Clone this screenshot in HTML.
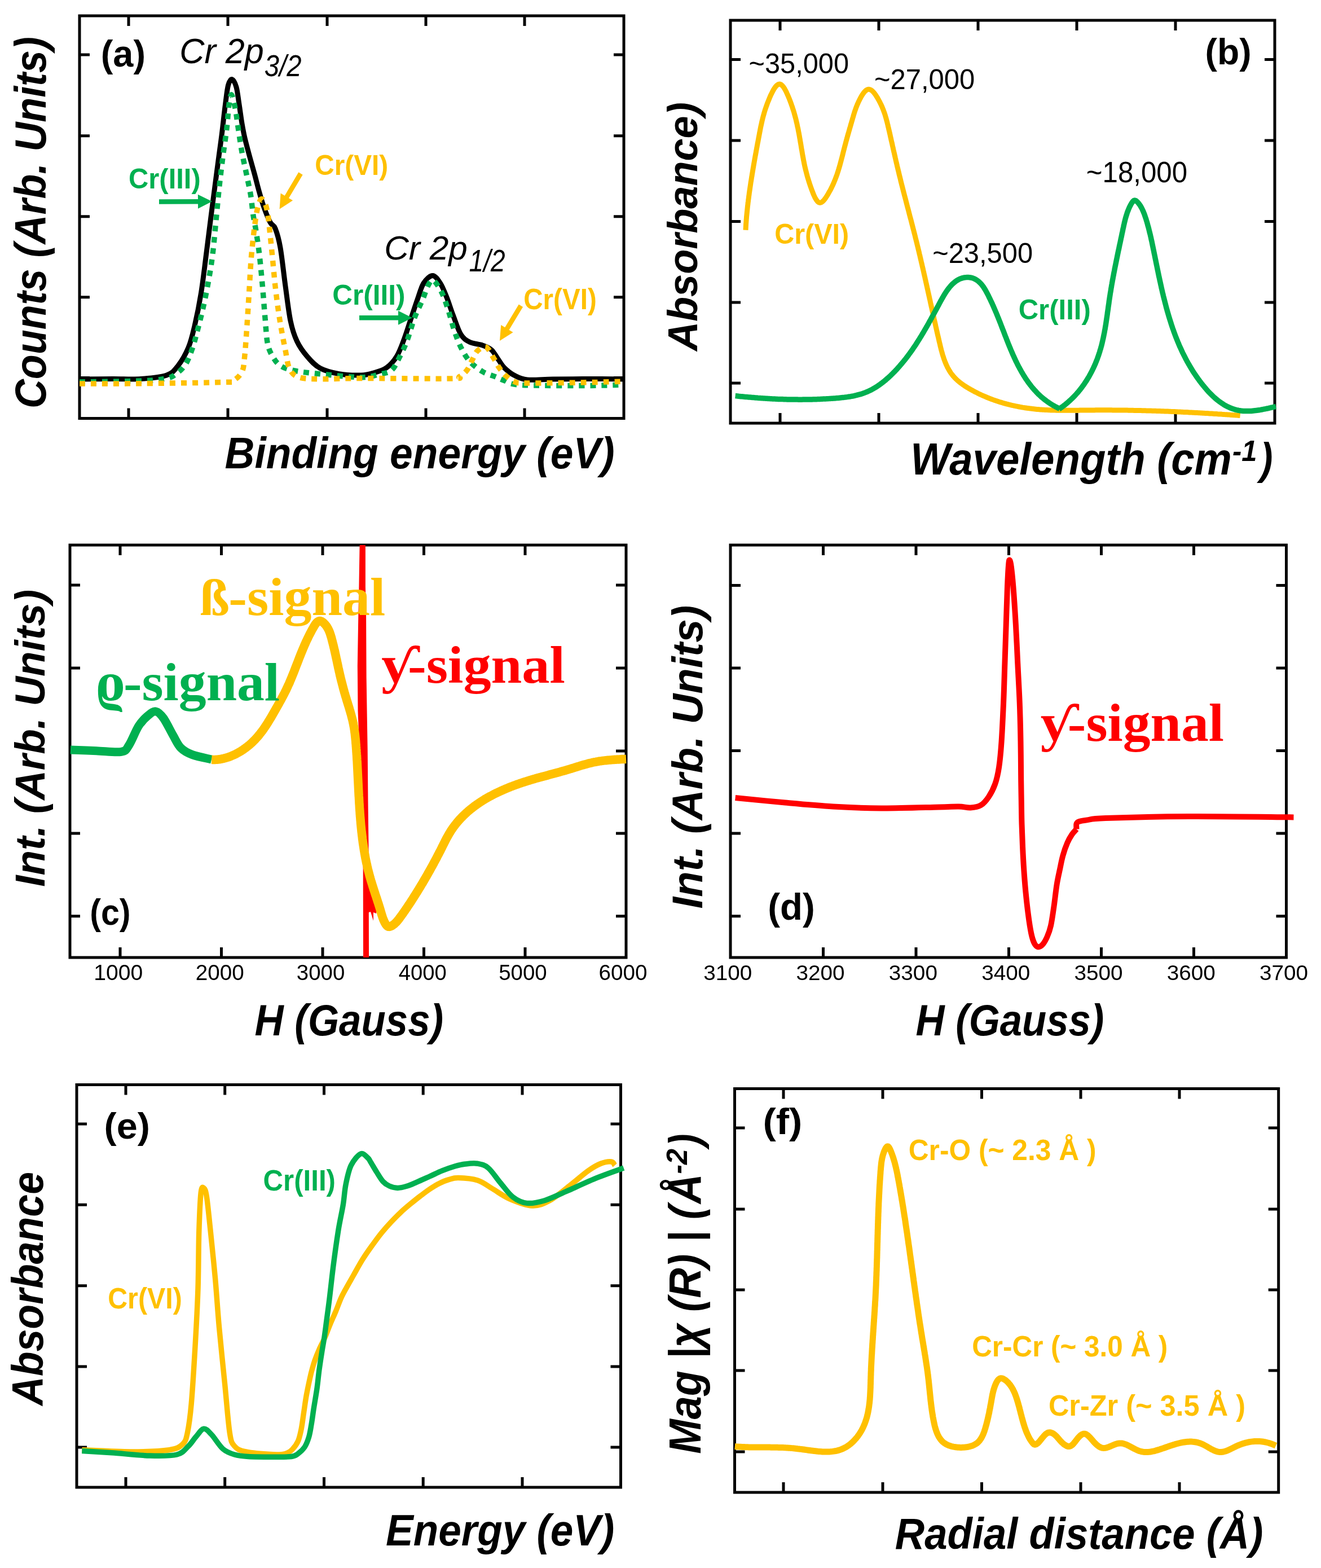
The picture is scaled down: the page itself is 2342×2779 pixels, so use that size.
<!DOCTYPE html>
<html><head><meta charset="utf-8"><title>Figure</title><style>html,body{margin:0;padding:0;background:#fff;overflow:hidden}svg{display:block}</style></head><body>
<svg xmlns="http://www.w3.org/2000/svg" width="2342" height="2779" viewBox="0 0 2342 2779">
<rect width="2342" height="2779" fill="#fff"/>
<rect x="141.0" y="28.0" width="965.0" height="713.5" fill="none" stroke="#000" stroke-width="5"/>
<path d="M228.0,28.0V46.0 M228.0,741.5V723.5 M404.0,28.0V46.0 M404.0,741.5V723.5 M580.0,28.0V46.0 M580.0,741.5V723.5 M755.0,28.0V46.0 M755.0,741.5V723.5 M930.0,28.0V46.0 M930.0,741.5V723.5 M141.0,97.0H159.0 M1106.0,97.0H1088.0 M141.0,240.7H159.0 M1106.0,240.7H1088.0 M141.0,383.7H159.0 M1106.0,383.7H1088.0 M141.0,526.7H159.0 M1106.0,526.7H1088.0 M141.0,669.6H159.0 M1106.0,669.6H1088.0" stroke="#000" stroke-width="5" fill="none"/>
<rect x="1295.0" y="36.0" width="965.0" height="714.0" fill="none" stroke="#000" stroke-width="5"/>
<path d="M1383.0,36.0V54.0 M1383.0,750.0V732.0 M1558.0,36.0V54.0 M1558.0,750.0V732.0 M1734.0,36.0V54.0 M1734.0,750.0V732.0 M1909.0,36.0V54.0 M1909.0,750.0V732.0 M2084.0,36.0V54.0 M2084.0,750.0V732.0 M1295.0,105.5H1313.0 M2260.0,105.5H2242.0 M1295.0,249.0H1313.0 M2260.0,249.0H2242.0 M1295.0,392.6H1313.0 M2260.0,392.6H2242.0 M1295.0,536.0H1313.0 M2260.0,536.0H2242.0 M1295.0,679.0H1313.0 M2260.0,679.0H2242.0" stroke="#000" stroke-width="5" fill="none"/>
<rect x="124.0" y="966.0" width="986.0" height="731.0" fill="none" stroke="#000" stroke-width="5"/>
<path d="M213.0,966.0V984.0 M213.0,1697.0V1679.0 M392.5,966.0V984.0 M392.5,1697.0V1679.0 M572.0,966.0V984.0 M572.0,1697.0V1679.0 M751.5,966.0V984.0 M751.5,1697.0V1679.0 M931.0,966.0V984.0 M931.0,1697.0V1679.0 M124.0,1037.0H142.0 M1110.0,1037.0H1092.0 M124.0,1184.0H142.0 M1110.0,1184.0H1092.0 M124.0,1331.0H142.0 M1110.0,1331.0H1092.0 M124.0,1477.0H142.0 M1110.0,1477.0H1092.0 M124.0,1623.7H142.0 M1110.0,1623.7H1092.0" stroke="#000" stroke-width="5" fill="none"/>
<rect x="1295.0" y="966.0" width="985.5" height="731.0" fill="none" stroke="#000" stroke-width="5"/>
<path d="M1459.5,966.0V984.0 M1459.5,1697.0V1679.0 M1624.0,966.0V984.0 M1624.0,1697.0V1679.0 M1788.5,966.0V984.0 M1788.5,1697.0V1679.0 M1952.5,966.0V984.0 M1952.5,1697.0V1679.0 M2116.5,966.0V984.0 M2116.5,1697.0V1679.0 M1295.0,1037.5H1313.0 M2280.5,1037.5H2262.5 M1295.0,1184.0H1313.0 M2280.5,1184.0H2262.5 M1295.0,1330.5H1313.0 M2280.5,1330.5H2262.5 M1295.0,1477.0H1313.0 M2280.5,1477.0H2262.5 M1295.0,1623.7H1313.0 M2280.5,1623.7H2262.5" stroke="#000" stroke-width="5" fill="none"/>
<rect x="136.0" y="1922.5" width="964.5" height="713.5" fill="none" stroke="#000" stroke-width="5"/>
<path d="M223.0,1922.5V1940.5 M223.0,2636.0V2618.0 M398.7,1922.5V1940.5 M398.7,2636.0V2618.0 M574.5,1922.5V1940.5 M574.5,2636.0V2618.0 M750.2,1922.5V1940.5 M750.2,2636.0V2618.0 M926.0,1922.5V1940.5 M926.0,2636.0V2618.0 M136.0,1992.0H154.0 M1100.5,1992.0H1082.5 M136.0,2135.3H154.0 M1100.5,2135.3H1082.5 M136.0,2278.7H154.0 M1100.5,2278.7H1082.5 M136.0,2422.0H154.0 M1100.5,2422.0H1082.5 M136.0,2565.0H154.0 M1100.5,2565.0H1082.5" stroke="#000" stroke-width="5" fill="none"/>
<rect x="1302.5" y="1929.5" width="964.2" height="715.5" fill="none" stroke="#000" stroke-width="5"/>
<path d="M1389.0,1929.5V1947.5 M1389.0,2645.0V2627.0 M1565.0,1929.5V1947.5 M1565.0,2645.0V2627.0 M1740.5,1929.5V1947.5 M1740.5,2645.0V2627.0 M1916.0,1929.5V1947.5 M1916.0,2645.0V2627.0 M2091.0,1929.5V1947.5 M2091.0,2645.0V2627.0 M1302.5,1999.0H1320.5 M2266.7,1999.0H2248.7 M1302.5,2143.0H1320.5 M2266.7,2143.0H2248.7 M1302.5,2286.0H1320.5 M2266.7,2286.0H2248.7 M1302.5,2429.0H1320.5 M2266.7,2429.0H2248.7 M1302.5,2573.0H1320.5 M2266.7,2573.0H2248.7" stroke="#000" stroke-width="5" fill="none"/>
<path d="M141.0,672.0 C150.8,671.9 181.8,671.6 200.0,671.5 C218.2,671.4 234.1,672.6 250.0,671.5 C265.9,670.4 284.4,668.9 295.4,665.0 C306.4,661.1 309.4,656.2 315.8,648.0 C322.2,639.8 329.1,627.7 334.0,616.0 C338.9,604.3 341.2,593.9 345.0,577.7 C348.8,561.5 353.2,539.9 356.6,518.7 C360.0,497.5 362.8,472.6 365.6,450.7 C368.4,428.8 371.2,406.0 373.6,387.2 C376.0,368.4 377.8,354.7 380.0,338.0 C382.2,321.3 384.4,304.0 386.7,287.0 C388.9,270.0 391.4,253.0 393.5,236.0 C395.6,219.0 397.6,199.2 399.5,185.0 C401.4,170.8 402.6,158.4 404.6,151.0 C406.6,143.6 409.0,139.9 411.4,140.5 C413.8,141.1 416.9,147.0 419.0,154.4 C421.1,161.8 422.3,174.2 424.0,185.0 C425.7,195.8 427.3,209.1 429.0,219.0 C430.7,228.9 431.7,234.7 434.0,244.6 C436.3,254.5 440.0,267.9 442.9,278.6 C445.8,289.3 448.5,298.5 451.4,309.0 C454.2,319.5 457.2,331.6 460.0,341.5 C462.8,351.4 465.2,359.9 468.4,368.7 C471.6,377.4 475.7,387.9 479.0,394.0 C482.3,400.1 485.0,397.5 488.0,405.0 C491.0,412.5 494.0,422.0 497.0,439.0 C500.0,456.0 503.0,485.4 506.0,507.0 C509.0,528.6 511.6,552.3 515.0,568.6 C518.4,584.9 521.6,594.4 526.6,605.0 C531.6,615.6 538.0,624.1 544.8,632.0 C551.6,639.9 558.0,647.4 567.5,652.5 C577.0,657.6 589.4,660.6 601.5,662.7 C613.6,664.8 629.8,665.3 640.0,665.0 C650.2,664.7 655.1,663.0 662.7,660.8 C670.3,658.6 678.6,656.6 685.4,651.7 C692.2,646.8 698.2,640.0 703.5,631.3 C708.8,622.6 712.9,610.5 717.0,599.5 C721.1,588.5 724.6,576.8 728.4,565.5 C732.2,554.2 736.0,542.1 739.8,531.5 C743.6,520.9 746.5,509.2 751.0,502.0 C755.5,494.8 762.1,488.4 767.0,488.4 C771.9,488.4 776.4,495.6 780.6,502.0 C784.8,508.4 788.2,517.5 792.0,527.0 C795.8,536.5 799.1,547.8 803.3,558.7 C807.5,569.7 812.1,584.8 817.0,592.7 C821.9,600.6 826.3,603.1 832.7,606.3 C839.1,609.5 849.0,609.7 855.4,612.0 C861.8,614.3 866.8,616.0 871.3,620.0 C875.8,624.0 878.8,630.5 882.6,635.8 C886.4,641.1 889.1,646.8 894.0,651.7 C898.9,656.6 905.2,661.8 912.0,665.3 C918.8,668.8 923.5,671.9 934.8,673.0 C946.1,674.1 962.5,672.2 980.0,672.0 C997.5,671.8 1019.0,671.5 1040.0,671.5 C1061.0,671.5 1095.0,671.9 1106.0,672.0" fill="none" stroke="#000000" stroke-width="9" stroke-linecap="butt" stroke-linejoin="round"/>
<path d="M141.0,677.0 C159.2,676.7 224.3,676.0 250.0,675.0 C275.7,674.0 284.4,672.9 295.0,670.7 C305.6,668.5 307.8,665.8 313.5,661.6 C319.2,657.4 324.5,652.9 329.0,645.7 C333.5,638.5 337.2,628.3 340.7,618.5 C344.2,608.7 346.4,599.6 349.8,586.8 C353.2,573.9 357.6,556.5 361.0,541.4 C364.4,526.3 367.3,511.1 370.0,496.0 C372.7,480.9 374.9,467.7 377.0,450.7 C379.1,433.7 380.8,413.3 382.7,394.0 C384.6,374.7 386.3,353.9 388.4,334.7 C390.4,315.5 392.7,296.5 395.0,278.6 C397.3,260.8 400.2,243.2 402.0,227.6 C403.8,212.0 404.6,194.9 406.0,185.0 C407.4,175.1 408.6,166.6 410.5,168.0 C412.4,169.4 415.3,183.6 417.3,193.5 C419.3,203.4 420.4,214.8 422.4,227.6 C424.3,240.3 426.4,255.8 429.0,270.0 C431.6,284.2 435.2,299.8 437.8,312.6 C440.4,325.4 442.8,335.3 444.6,346.6 C446.4,357.9 447.2,370.0 448.8,380.6 C450.4,391.2 452.2,398.3 454.0,410.0 C455.8,421.7 457.9,434.5 459.8,450.7 C461.7,466.9 463.7,488.5 465.4,507.4 C467.1,526.3 468.5,547.0 470.0,564.0 C471.5,581.0 472.2,598.1 474.5,609.4 C476.8,620.7 479.9,625.6 483.6,632.0 C487.4,638.4 490.6,643.8 497.0,648.0 C503.4,652.2 510.2,654.5 522.0,657.0 C533.8,659.5 547.8,660.8 567.5,662.7 C587.2,664.7 622.2,668.7 640.0,668.7 C657.8,668.8 664.9,665.1 674.0,663.0 C683.1,660.9 688.7,660.9 694.4,656.0 C700.1,651.1 703.5,642.3 708.0,633.6 C712.5,624.9 717.1,615.8 721.6,604.0 C726.1,592.2 730.4,575.1 735.0,563.0 C739.6,550.9 744.8,541.3 749.0,531.5 C753.2,521.7 756.7,509.7 760.0,504.0 C763.3,498.3 765.2,495.2 769.0,497.5 C772.8,499.8 778.8,509.7 783.0,518.0 C787.2,526.3 790.2,536.1 794.0,547.4 C797.8,558.7 801.7,574.7 805.5,586.0 C809.3,597.3 812.5,606.3 817.0,615.4 C821.5,624.5 826.3,633.2 832.7,640.4 C839.1,647.6 847.9,654.0 855.4,658.5 C862.9,663.0 871.6,665.0 878.0,667.6 C884.4,670.2 886.4,672.0 894.0,674.4 C901.6,676.8 899.1,680.8 923.4,682.3 C947.7,683.8 1009.6,683.4 1040.0,683.4 C1070.4,683.4 1095.0,682.2 1106.0,682.0" fill="none" stroke="#00B050" stroke-width="9.5" stroke-linecap="butt" stroke-linejoin="miter" stroke-dasharray="10 10"/>
<path d="M141.0,680.0 C159.2,680.0 207.7,680.1 250.0,679.7 C292.3,679.3 367.8,678.3 395.0,677.5 C422.2,676.7 407.3,678.1 413.0,675.0 C418.7,671.9 425.6,666.2 429.0,659.0 C432.4,651.8 432.2,645.9 433.7,632.0 C435.2,618.1 436.7,594.3 438.0,575.4 C439.3,556.5 440.4,537.6 441.6,518.7 C442.8,499.8 443.7,479.0 445.0,462.0 C446.3,445.0 448.0,429.9 449.5,416.7 C451.0,403.5 452.6,391.5 454.0,382.7 C455.4,373.9 456.5,368.9 458.0,364.0 C459.5,359.1 461.2,354.0 463.0,353.0 C464.8,352.0 467.1,353.8 469.0,358.0 C470.9,362.2 472.8,368.2 474.5,378.0 C476.2,387.8 477.5,402.7 479.0,416.7 C480.5,430.7 482.1,446.9 483.6,462.0 C485.1,477.1 486.3,492.3 488.0,507.4 C489.7,522.5 491.9,539.5 493.8,552.7 C495.7,565.9 497.4,575.4 499.4,586.8 C501.4,598.1 503.7,609.8 506.0,620.8 C508.3,631.8 509.2,644.6 513.0,652.5 C516.8,660.4 519.9,665.2 529.0,668.4 C538.1,671.6 549.0,671.4 567.5,671.8 C586.0,672.1 601.5,670.6 640.0,670.5 C678.5,670.4 769.6,671.5 798.7,671.0 C827.8,670.5 809.7,670.1 814.6,667.6 C819.5,665.1 824.2,660.9 828.0,656.0 C831.8,651.1 834.2,643.7 837.3,638.0 C840.3,632.3 842.2,625.8 846.3,622.0 C850.4,618.2 857.1,613.1 862.0,615.4 C866.9,617.7 872.0,629.8 875.8,635.8 C879.6,641.8 881.6,646.8 885.0,651.7 C888.4,656.6 891.5,661.1 896.0,665.3 C900.5,669.4 905.5,674.3 912.0,676.6 C918.5,678.9 913.5,678.8 934.8,679.0 C956.1,679.2 1011.5,678.3 1040.0,677.8 C1068.5,677.3 1095.0,676.3 1106.0,676.0" fill="none" stroke="#FFC000" stroke-width="9.5" stroke-linecap="butt" stroke-linejoin="miter" stroke-dasharray="10 10"/>
<line x1="282.0" y1="357.5" x2="353.0" y2="357.2" stroke="#00B050" stroke-width="8.5"/><polygon points="376.0,357.1 351.1,369.7 350.9,344.7" fill="#00B050"/>
<line x1="637.0" y1="563.3" x2="708.0" y2="563.3" stroke="#00B050" stroke-width="8.5"/><polygon points="731.0,563.3 706.0,575.8 706.0,550.8" fill="#00B050"/>
<line x1="533.0" y1="307.5" x2="507.4" y2="350.6" stroke="#FFC000" stroke-width="8.5"/><polygon points="495.6,370.4 497.6,342.5 519.1,355.3" fill="#FFC000"/>
<line x1="923.4" y1="541.7" x2="897.8" y2="584.3" stroke="#FFC000" stroke-width="8.5"/><polygon points="886.0,604.0 888.2,576.1 909.6,589.0" fill="#FFC000"/>
<path d="M1322.0,407.7 L1322.1,405.8 L1322.2,403.9 L1322.3,402.0 L1322.4,400.1 L1322.5,398.2 L1322.6,396.3 L1322.8,394.4 L1322.9,392.5 L1323.1,390.5 L1323.2,388.6 L1323.4,386.7 L1323.5,384.7 L1323.7,382.7 L1323.9,380.8 L1324.1,378.8 L1324.3,376.8 L1324.5,374.8 L1324.7,372.9 L1324.9,370.9 L1325.1,368.9 L1325.3,366.9 L1325.5,364.9 L1325.8,362.9 L1326.0,360.8 L1326.2,358.8 L1326.5,356.8 L1326.7,354.8 L1327.0,352.8 L1327.3,350.7 L1327.5,348.7 L1327.8,346.7 L1328.1,344.6 L1328.3,342.6 L1328.6,340.6 L1328.9,338.5 L1329.2,336.5 L1329.5,334.5 L1329.8,332.4 L1330.1,330.4 L1330.4,328.3 L1330.7,326.3 L1331.0,324.2 L1331.3,322.2 L1331.7,320.2 L1332.0,318.1 L1332.3,316.1 L1332.6,314.0 L1333.0,312.0 L1333.3,310.0 L1333.6,307.9 L1334.0,305.9 L1334.3,303.9 L1334.6,301.8 L1335.0,299.8 L1335.3,297.8 L1335.7,295.8 L1336.0,293.7 L1336.4,291.7 L1336.7,289.7 L1337.1,287.7 L1337.4,285.7 L1337.8,283.7 L1338.1,281.7 L1338.5,279.7 L1338.8,277.7 L1339.2,275.7 L1339.6,273.8 L1339.9,271.8 L1340.3,269.8 L1340.6,267.8 L1341.0,265.9 L1341.4,263.9 L1341.7,262.0 L1342.1,260.1 L1342.4,258.1 L1342.8,256.2 L1343.1,254.3 L1343.5,252.4 L1343.9,250.5 L1344.2,248.6 L1344.6,246.7 L1344.9,244.8 L1345.3,243.0 L1345.6,241.1 L1346.0,239.2 L1346.3,237.4 L1346.7,235.6 L1347.0,233.7 L1347.4,231.9 L1347.7,230.1 L1348.1,228.3 L1348.4,226.4 L1348.8,224.6 L1349.2,222.8 L1349.6,221.0 L1350.0,219.2 L1350.4,217.3 L1350.8,215.5 L1351.2,213.7 L1351.7,211.8 L1352.1,209.9 L1352.6,208.1 L1353.1,206.2 L1353.6,204.3 L1354.2,202.4 L1354.7,200.4 L1355.3,198.5 L1355.9,196.5 L1356.5,194.5 L1357.2,192.5 L1357.9,190.5 L1358.6,188.4 L1359.4,186.3 L1360.1,184.2 L1360.9,182.1 L1361.8,179.9 L1362.7,177.7 L1363.6,175.5 L1364.5,173.2 L1365.5,170.9 L1366.5,168.6 L1367.6,166.4 L1368.7,164.2 L1369.8,162.0 L1370.9,160.0 L1372.0,158.0 L1373.2,156.2 L1374.3,154.6 L1375.5,153.1 L1376.7,151.8 L1377.9,150.7 L1379.1,149.9 L1380.2,149.4 L1381.4,149.1 L1382.6,149.1 L1383.7,149.5 L1384.9,150.0 L1386.0,150.9 L1387.1,152.0 L1388.2,153.2 L1389.3,154.7 L1390.4,156.3 L1391.4,158.1 L1392.5,160.0 L1393.5,161.9 L1394.5,164.0 L1395.4,166.1 L1396.4,168.2 L1397.3,170.3 L1398.2,172.4 L1399.1,174.5 L1399.9,176.6 L1400.7,178.7 L1401.5,180.8 L1402.3,182.9 L1403.0,185.0 L1403.7,187.0 L1404.5,189.1 L1405.1,191.2 L1405.8,193.2 L1406.4,195.3 L1407.1,197.3 L1407.7,199.3 L1408.3,201.4 L1408.8,203.4 L1409.4,205.4 L1409.9,207.4 L1410.5,209.4 L1411.0,211.4 L1411.5,213.4 L1411.9,215.4 L1412.4,217.4 L1412.9,219.4 L1413.3,221.3 L1413.7,223.3 L1414.1,225.3 L1414.6,227.2 L1415.0,229.2 L1415.3,231.1 L1415.7,233.1 L1416.1,235.0 L1416.5,236.9 L1416.8,238.9 L1417.2,240.8 L1417.5,242.7 L1417.8,244.6 L1418.2,246.5 L1418.5,248.5 L1418.8,250.4 L1419.1,252.3 L1419.5,254.2 L1419.8,256.0 L1420.1,257.9 L1420.4,259.8 L1420.7,261.7 L1421.0,263.6 L1421.3,265.4 L1421.7,267.3 L1422.0,269.2 L1422.3,271.0 L1422.6,272.9 L1422.9,274.8 L1423.3,276.6 L1423.6,278.5 L1424.0,280.3 L1424.3,282.2 L1424.6,284.0 L1425.0,285.8 L1425.4,287.7 L1425.7,289.5 L1426.1,291.4 L1426.5,293.2 L1426.9,295.1 L1427.3,296.9 L1427.8,298.8 L1428.2,300.7 L1428.7,302.5 L1429.2,304.4 L1429.7,306.4 L1430.2,308.3 L1430.7,310.2 L1431.2,312.2 L1431.8,314.2 L1432.4,316.2 L1433.0,318.2 L1433.7,320.3 L1434.3,322.4 L1435.0,324.5 L1435.7,326.6 L1436.4,328.8 L1437.2,331.0 L1438.0,333.3 L1438.8,335.5 L1439.7,337.8 L1440.6,340.2 L1441.5,342.5 L1442.4,344.8 L1443.4,347.0 L1444.4,349.2 L1445.4,351.2 L1446.5,353.0 L1447.6,354.7 L1448.7,356.2 L1449.8,357.4 L1451.0,358.3 L1452.2,359.0 L1453.4,359.3 L1454.6,359.2 L1455.9,358.8 L1457.2,358.1 L1458.4,357.1 L1459.7,355.9 L1461.0,354.5 L1462.3,352.8 L1463.5,351.1 L1464.8,349.2 L1466.0,347.3 L1467.2,345.4 L1468.3,343.5 L1469.4,341.5 L1470.5,339.6 L1471.6,337.7 L1472.6,335.8 L1473.6,333.9 L1474.5,332.0 L1475.4,330.1 L1476.3,328.2 L1477.2,326.3 L1478.0,324.4 L1478.8,322.5 L1479.6,320.6 L1480.4,318.7 L1481.1,316.9 L1481.8,315.0 L1482.5,313.1 L1483.2,311.2 L1483.9,309.4 L1484.5,307.5 L1485.1,305.6 L1485.7,303.8 L1486.3,301.9 L1486.9,300.0 L1487.5,298.1 L1488.0,296.3 L1488.6,294.4 L1489.1,292.5 L1489.6,290.6 L1490.1,288.8 L1490.6,286.9 L1491.1,285.0 L1491.6,283.1 L1492.1,281.2 L1492.6,279.3 L1493.1,277.4 L1493.6,275.5 L1494.1,273.6 L1494.5,271.7 L1495.0,269.8 L1495.5,267.8 L1496.0,265.9 L1496.5,264.0 L1497.0,262.0 L1497.5,260.1 L1498.0,258.1 L1498.6,256.2 L1499.1,254.2 L1499.6,252.2 L1500.1,250.3 L1500.7,248.3 L1501.2,246.3 L1501.8,244.3 L1502.3,242.4 L1502.9,240.4 L1503.4,238.4 L1504.0,236.4 L1504.6,234.5 L1505.1,232.5 L1505.7,230.6 L1506.2,228.6 L1506.8,226.7 L1507.4,224.7 L1507.9,222.8 L1508.5,220.9 L1509.0,219.0 L1509.6,217.1 L1510.1,215.2 L1510.7,213.3 L1511.2,211.5 L1511.7,209.6 L1512.3,207.8 L1512.8,206.0 L1513.3,204.2 L1513.9,202.4 L1514.4,200.6 L1515.0,198.7 L1515.6,196.9 L1516.2,195.1 L1516.9,193.3 L1517.5,191.4 L1518.2,189.6 L1519.0,187.7 L1519.7,185.8 L1520.6,183.9 L1521.4,182.0 L1522.3,180.0 L1523.3,178.0 L1524.3,176.0 L1525.4,173.9 L1526.5,171.8 L1527.7,169.7 L1529.0,167.7 L1530.3,165.8 L1531.6,164.0 L1533.0,162.4 L1534.4,161.0 L1535.8,159.9 L1537.2,159.0 L1538.7,158.4 L1540.1,158.2 L1541.6,158.4 L1543.1,158.9 L1544.6,159.7 L1546.0,160.8 L1547.5,162.2 L1548.9,163.7 L1550.3,165.4 L1551.7,167.3 L1553.0,169.2 L1554.3,171.3 L1555.6,173.3 L1556.8,175.4 L1557.9,177.4 L1559.0,179.5 L1560.1,181.5 L1561.0,183.5 L1562.0,185.4 L1562.9,187.4 L1563.8,189.3 L1564.6,191.3 L1565.4,193.2 L1566.1,195.1 L1566.8,197.0 L1567.5,198.9 L1568.2,200.8 L1568.8,202.6 L1569.4,204.5 L1569.9,206.3 L1570.5,208.2 L1571.0,210.0 L1571.5,211.9 L1572.0,213.7 L1572.5,215.6 L1573.0,217.4 L1573.4,219.3 L1573.9,221.1 L1574.3,222.9 L1574.7,224.8 L1575.2,226.7 L1575.6,228.5 L1576.0,230.4 L1576.5,232.3 L1576.9,234.1 L1577.3,236.0 L1577.8,237.9 L1578.2,239.8 L1578.6,241.7 L1579.0,243.6 L1579.5,245.5 L1579.9,247.5 L1580.3,249.4 L1580.8,251.3 L1581.2,253.2 L1581.7,255.2 L1582.1,257.1 L1582.5,259.0 L1583.0,261.0 L1583.4,262.9 L1583.8,264.9 L1584.3,266.8 L1584.7,268.8 L1585.2,270.7 L1585.6,272.7 L1586.1,274.7 L1586.5,276.6 L1587.0,278.6 L1587.4,280.5 L1587.9,282.5 L1588.3,284.5 L1588.8,286.5 L1589.2,288.4 L1589.7,290.4 L1590.2,292.4 L1590.6,294.3 L1591.1,296.3 L1591.6,298.3 L1592.0,300.2 L1592.5,302.2 L1593.0,304.2 L1593.5,306.2 L1593.9,308.1 L1594.4,310.1 L1594.9,312.1 L1595.4,314.0 L1595.9,316.0 L1596.4,317.9 L1596.8,319.9 L1597.3,321.9 L1597.8,323.8 L1598.3,325.8 L1598.8,327.8 L1599.3,329.7 L1599.8,331.7 L1600.3,333.6 L1600.8,335.6 L1601.3,337.6 L1601.8,339.5 L1602.3,341.5 L1602.8,343.4 L1603.3,345.4 L1603.8,347.3 L1604.4,349.3 L1604.9,351.3 L1605.4,353.2 L1605.9,355.2 L1606.4,357.1 L1606.9,359.1 L1607.4,361.0 L1607.9,363.0 L1608.4,364.9 L1608.9,366.9 L1609.5,368.8 L1610.0,370.8 L1610.5,372.7 L1611.0,374.7 L1611.5,376.6 L1612.0,378.6 L1612.5,380.5 L1613.0,382.5 L1613.5,384.4 L1614.0,386.3 L1614.6,388.3 L1615.1,390.2 L1615.6,392.2 L1616.1,394.1 L1616.6,396.1 L1617.1,398.0 L1617.6,399.9 L1618.1,401.9 L1618.6,403.8 L1619.1,405.8 L1619.6,407.7 L1620.1,409.6 L1620.6,411.6 L1621.1,413.5 L1621.6,415.5 L1622.1,417.4 L1622.6,419.3 L1623.0,421.3 L1623.5,423.2 L1624.0,425.1 L1624.5,427.1 L1625.0,429.0 L1625.5,431.0 L1625.9,432.9 L1626.4,434.8 L1626.9,436.8 L1627.4,438.7 L1627.8,440.6 L1628.3,442.6 L1628.8,444.5 L1629.2,446.4 L1629.7,448.4 L1630.1,450.3 L1630.6,452.2 L1631.1,454.2 L1631.5,456.1 L1632.0,458.0 L1632.4,460.0 L1632.9,461.9 L1633.3,463.8 L1633.8,465.8 L1634.2,467.7 L1634.7,469.6 L1635.1,471.6 L1635.6,473.5 L1636.0,475.4 L1636.5,477.4 L1636.9,479.3 L1637.4,481.2 L1637.8,483.2 L1638.2,485.1 L1638.7,487.0 L1639.1,489.0 L1639.6,490.9 L1640.0,492.8 L1640.4,494.8 L1640.9,496.7 L1641.3,498.7 L1641.7,500.6 L1642.2,502.5 L1642.6,504.5 L1643.0,506.4 L1643.5,508.4 L1643.9,510.3 L1644.3,512.2 L1644.8,514.2 L1645.2,516.1 L1645.6,518.1 L1646.1,520.0 L1646.5,522.0 L1646.9,523.9 L1647.4,525.9 L1647.8,527.8 L1648.2,529.8 L1648.7,531.7 L1649.1,533.7 L1649.5,535.6 L1649.9,537.6 L1650.4,539.5 L1650.8,541.5 L1651.2,543.4 L1651.7,545.4 L1652.1,547.3 L1652.5,549.3 L1653.0,551.3 L1653.4,553.2 L1653.9,555.2 L1654.3,557.2 L1654.7,559.1 L1655.2,561.1 L1655.6,563.1 L1656.0,565.0 L1656.5,567.0 L1656.9,569.0 L1657.4,570.9 L1657.8,572.9 L1658.3,574.9 L1658.7,576.9 L1659.1,578.8 L1659.6,580.8 L1660.0,582.8 L1660.5,584.8 L1660.9,586.8 L1661.4,588.8 L1661.8,590.8 L1662.3,592.8 L1662.7,594.7 L1663.2,596.7 L1663.7,598.7 L1664.1,600.7 L1664.6,602.7 L1665.0,604.7 L1665.5,606.7 L1666.0,608.7 L1666.5,610.7 L1666.9,612.7 L1667.4,614.7 L1667.9,616.7 L1668.4,618.7 L1668.9,620.7 L1669.5,622.7 L1670.0,624.6 L1670.6,626.6 L1671.1,628.5 L1671.7,630.5 L1672.4,632.4 L1673.0,634.3 L1673.6,636.2 L1674.3,638.1 L1675.0,640.0 L1675.7,641.8 L1676.5,643.6 L1677.2,645.5 L1678.0,647.2 L1678.9,649.0 L1679.7,650.8 L1680.6,652.5 L1681.6,654.2 L1682.5,655.9 L1683.5,657.5 L1684.6,659.2 L1685.6,660.8 L1686.7,662.3 L1687.9,663.9 L1689.1,665.4 L1690.3,666.9 L1691.6,668.3 L1692.9,669.8 L1694.3,671.1 L1695.7,672.5 L1697.1,673.8 L1698.6,675.1 L1700.1,676.4 L1701.6,677.6 L1703.2,678.8 L1704.8,680.0 L1706.4,681.2 L1708.1,682.4 L1709.7,683.5 L1711.4,684.6 L1713.1,685.7 L1714.9,686.7 L1716.6,687.8 L1718.3,688.8 L1720.1,689.8 L1721.8,690.8 L1723.6,691.8 L1725.4,692.8 L1727.2,693.7 L1729.0,694.7 L1730.8,695.6 L1732.6,696.5 L1734.4,697.4 L1736.2,698.3 L1738.0,699.1 L1739.9,700.0 L1741.7,700.8 L1743.5,701.6 L1745.4,702.4 L1747.2,703.2 L1749.1,704.0 L1751.0,704.8 L1752.8,705.5 L1754.7,706.3 L1756.6,707.0 L1758.5,707.7 L1760.4,708.4 L1762.3,709.1 L1764.2,709.7 L1766.1,710.4 L1768.0,711.0 L1769.9,711.6 L1771.8,712.3 L1773.7,712.8 L1775.6,713.4 L1777.6,714.0 L1779.5,714.6 L1781.4,715.1 L1783.4,715.6 L1785.3,716.2 L1787.3,716.7 L1789.2,717.2 L1791.2,717.6 L1793.1,718.1 L1795.1,718.5 L1797.1,719.0 L1799.0,719.4 L1801.0,719.8 L1803.0,720.2 L1804.9,720.6 L1806.9,721.0 L1808.9,721.4 L1810.8,721.7 L1812.8,722.1 L1814.8,722.4 L1816.8,722.7 L1818.8,723.0 L1820.7,723.3 L1822.7,723.6 L1824.7,723.8 L1826.7,724.1 L1828.7,724.3 L1830.7,724.6 L1832.7,724.8 L1834.6,725.0 L1836.6,725.2 L1838.6,725.4 L1840.6,725.5 L1842.6,725.7 L1844.6,725.9 L1846.6,726.0 L1848.6,726.2 L1850.6,726.3 L1852.6,726.4 L1854.6,726.5 L1856.5,726.6 L1858.5,726.7 L1860.5,726.8 L1862.5,726.9 L1864.5,726.9 L1866.5,727.0 L1868.5,727.1 L1870.5,727.1 L1872.5,727.2 L1874.5,727.2 L1876.5,727.2 L1878.5,727.3 L1880.5,727.3 L1882.5,727.3 L1884.5,727.3 L1886.5,727.3 L1888.5,727.3 L1890.5,727.3 L1892.5,727.3 L1894.5,727.3 L1896.5,727.3 L1898.5,727.3 L1900.5,727.3 L1902.5,727.3 L1904.5,727.2 L1906.5,727.2 L1908.5,727.2 L1910.5,727.2 L1912.5,727.2 L1914.5,727.1 L1916.5,727.1 L1918.5,727.1 L1920.5,727.1 L1922.5,727.0 L1924.5,727.0 L1926.5,727.0 L1928.5,727.0 L1930.5,726.9 L1932.5,726.9 L1934.5,726.9 L1936.5,726.9 L1938.5,726.9 L1940.5,726.9 L1942.5,726.8 L1944.5,726.8 L1946.5,726.8 L1948.6,726.8 L1950.6,726.8 L1952.6,726.8 L1954.6,726.8 L1956.6,726.8 L1958.6,726.8 L1960.6,726.8 L1962.6,726.8 L1964.6,726.8 L1966.6,726.8 L1968.6,726.8 L1970.6,726.8 L1972.6,726.9 L1974.6,726.9 L1976.6,726.9 L1978.6,726.9 L1980.6,726.9 L1982.6,726.9 L1984.6,727.0 L1986.6,727.0 L1988.6,727.0 L1990.6,727.0 L1992.6,727.1 L1994.6,727.1 L1996.6,727.1 L1998.6,727.1 L2000.6,727.2 L2002.6,727.2 L2004.6,727.2 L2006.6,727.3 L2008.6,727.3 L2010.6,727.4 L2012.6,727.4 L2014.6,727.4 L2016.6,727.5 L2018.6,727.5 L2020.7,727.6 L2022.7,727.6 L2024.7,727.7 L2026.7,727.7 L2028.7,727.8 L2030.7,727.8 L2032.7,727.9 L2034.7,727.9 L2036.7,728.0 L2038.7,728.0 L2040.7,728.1 L2042.7,728.2 L2044.7,728.2 L2046.7,728.3 L2048.7,728.3 L2050.7,728.4 L2052.7,728.5 L2054.7,728.5 L2056.7,728.6 L2058.7,728.7 L2060.7,728.8 L2062.7,728.8 L2064.7,728.9 L2066.7,729.0 L2068.7,729.1 L2070.7,729.1 L2072.7,729.2 L2074.7,729.3 L2076.7,729.4 L2078.7,729.5 L2080.7,729.5 L2082.7,729.6 L2084.7,729.7 L2086.7,729.8 L2088.7,729.9 L2090.7,730.0 L2092.7,730.1 L2094.7,730.2 L2096.7,730.3 L2098.7,730.4 L2100.7,730.5 L2102.7,730.5 L2104.7,730.6 L2106.7,730.7 L2108.7,730.9 L2110.7,731.0 L2112.7,731.1 L2114.7,731.2 L2116.7,731.3 L2118.7,731.4 L2120.7,731.5 L2122.7,731.6 L2124.7,731.7 L2126.7,731.8 L2128.7,731.9 L2130.7,732.0 L2132.7,732.2 L2134.7,732.3 L2136.7,732.4 L2138.7,732.5 L2140.7,732.6 L2142.7,732.7 L2144.7,732.9 L2146.7,733.0 L2148.7,733.1 L2150.7,733.2 L2152.7,733.4 L2154.7,733.5 L2156.7,733.6 L2158.7,733.8 L2160.7,733.9 L2162.7,734.0 L2164.7,734.1 L2166.7,734.3 L2168.7,734.4 L2170.7,734.6 L2172.7,734.7 L2174.7,734.8 L2176.7,735.0 L2178.7,735.1 L2180.7,735.2 L2182.7,735.4 L2184.7,735.5 L2186.7,735.7 L2188.7,735.8 L2190.7,736.0 L2192.7,736.1 L2194.7,736.3 L2196.7,736.4 L2198.7,736.6" fill="none" stroke="#FFC000" stroke-width="9" stroke-linecap="butt" stroke-linejoin="round"/>
<path d="M1303.6,701.6 L1305.6,701.8 L1307.6,702.0 L1309.6,702.3 L1311.6,702.5 L1313.6,702.7 L1315.6,702.8 L1317.6,703.0 L1319.7,703.2 L1321.7,703.4 L1323.7,703.6 L1325.7,703.8 L1327.7,704.0 L1329.7,704.1 L1331.7,704.3 L1333.7,704.5 L1335.7,704.6 L1337.7,704.8 L1339.7,705.0 L1341.7,705.1 L1343.7,705.3 L1345.7,705.4 L1347.7,705.5 L1349.7,705.7 L1351.7,705.8 L1353.7,706.0 L1355.7,706.1 L1357.7,706.2 L1359.7,706.3 L1361.7,706.5 L1363.7,706.6 L1365.7,706.7 L1367.7,706.8 L1369.7,706.9 L1371.7,707.0 L1373.7,707.1 L1375.7,707.2 L1377.7,707.3 L1379.6,707.4 L1381.6,707.4 L1383.6,707.5 L1385.6,707.6 L1387.6,707.6 L1389.6,707.7 L1391.6,707.8 L1393.6,707.8 L1395.6,707.9 L1397.6,707.9 L1399.6,708.0 L1401.6,708.0 L1403.6,708.0 L1405.6,708.1 L1407.6,708.1 L1409.6,708.1 L1411.6,708.1 L1413.6,708.1 L1415.6,708.2 L1417.6,708.2 L1419.6,708.2 L1421.6,708.2 L1423.6,708.1 L1425.6,708.1 L1427.6,708.1 L1429.6,708.1 L1431.6,708.1 L1433.6,708.0 L1435.6,708.0 L1437.6,707.9 L1439.6,707.9 L1441.6,707.8 L1443.6,707.8 L1445.6,707.7 L1447.6,707.7 L1449.6,707.6 L1451.6,707.5 L1453.6,707.4 L1455.6,707.3 L1457.6,707.2 L1459.6,707.1 L1461.7,707.0 L1463.7,706.9 L1465.7,706.8 L1467.7,706.7 L1469.7,706.6 L1471.7,706.4 L1473.7,706.3 L1475.8,706.2 L1477.8,706.0 L1479.8,705.9 L1481.8,705.7 L1483.8,705.5 L1485.9,705.4 L1487.9,705.2 L1489.9,705.0 L1491.9,704.8 L1493.9,704.6 L1496.0,704.4 L1498.0,704.1 L1500.0,703.9 L1502.0,703.6 L1504.0,703.3 L1506.0,703.0 L1507.9,702.7 L1509.9,702.3 L1511.9,702.0 L1513.9,701.6 L1515.8,701.1 L1517.8,700.7 L1519.7,700.2 L1521.6,699.7 L1523.6,699.2 L1525.5,698.7 L1527.4,698.1 L1529.3,697.4 L1531.1,696.8 L1533.0,696.1 L1534.8,695.4 L1536.7,694.6 L1538.5,693.8 L1540.3,693.0 L1542.1,692.2 L1543.9,691.3 L1545.7,690.3 L1547.4,689.4 L1549.1,688.4 L1550.9,687.4 L1552.6,686.3 L1554.3,685.3 L1556.0,684.2 L1557.6,683.0 L1559.3,681.9 L1560.9,680.7 L1562.6,679.5 L1564.2,678.3 L1565.8,677.0 L1567.4,675.8 L1568.9,674.5 L1570.5,673.2 L1572.0,671.8 L1573.6,670.5 L1575.1,669.1 L1576.6,667.8 L1578.1,666.4 L1579.6,665.0 L1581.0,663.5 L1582.5,662.1 L1583.9,660.7 L1585.4,659.2 L1586.8,657.7 L1588.2,656.2 L1589.6,654.8 L1590.9,653.3 L1592.3,651.8 L1593.6,650.2 L1595.0,648.7 L1596.3,647.2 L1597.6,645.7 L1598.9,644.2 L1600.2,642.6 L1601.4,641.1 L1602.7,639.5 L1603.9,638.0 L1605.2,636.4 L1606.4,634.9 L1607.6,633.3 L1608.8,631.8 L1610.0,630.2 L1611.1,628.6 L1612.3,627.0 L1613.5,625.4 L1614.6,623.9 L1615.7,622.3 L1616.9,620.7 L1618.0,619.1 L1619.1,617.4 L1620.2,615.8 L1621.3,614.2 L1622.4,612.6 L1623.5,611.0 L1624.5,609.3 L1625.6,607.7 L1626.6,606.0 L1627.7,604.4 L1628.7,602.7 L1629.8,601.1 L1630.8,599.4 L1631.8,597.7 L1632.9,596.1 L1633.9,594.4 L1634.9,592.7 L1635.9,591.0 L1636.9,589.3 L1637.9,587.6 L1638.9,585.9 L1639.9,584.2 L1640.9,582.5 L1641.9,580.7 L1642.9,579.0 L1643.9,577.3 L1644.9,575.5 L1645.9,573.8 L1646.8,572.0 L1647.8,570.2 L1648.8,568.5 L1649.8,566.7 L1650.8,564.9 L1651.8,563.1 L1652.7,561.3 L1653.7,559.5 L1654.7,557.7 L1655.7,555.9 L1656.7,554.1 L1657.7,552.3 L1658.7,550.4 L1659.7,548.6 L1660.7,546.7 L1661.7,544.9 L1662.7,543.0 L1663.7,541.2 L1664.7,539.3 L1665.7,537.4 L1666.7,535.5 L1667.7,533.6 L1668.8,531.8 L1669.8,529.9 L1670.9,528.0 L1671.9,526.2 L1673.0,524.3 L1674.1,522.5 L1675.2,520.7 L1676.3,519.0 L1677.5,517.2 L1678.6,515.5 L1679.8,513.8 L1681.0,512.2 L1682.3,510.6 L1683.5,509.0 L1684.8,507.5 L1686.1,506.1 L1687.4,504.6 L1688.8,503.3 L1690.2,502.0 L1691.6,500.8 L1693.0,499.6 L1694.5,498.5 L1696.0,497.4 L1697.6,496.5 L1699.2,495.6 L1700.8,494.8 L1702.4,494.0 L1704.2,493.4 L1705.9,492.9 L1707.7,492.4 L1709.5,492.0 L1711.4,491.8 L1713.3,491.6 L1715.2,491.5 L1717.1,491.6 L1719.0,491.7 L1720.9,492.0 L1722.8,492.4 L1724.6,492.9 L1726.4,493.6 L1728.1,494.4 L1729.8,495.3 L1731.5,496.3 L1733.1,497.4 L1734.6,498.6 L1736.1,499.9 L1737.5,501.2 L1738.9,502.7 L1740.2,504.2 L1741.5,505.8 L1742.7,507.4 L1743.9,509.1 L1745.0,510.9 L1746.1,512.6 L1747.2,514.4 L1748.2,516.3 L1749.2,518.1 L1750.2,520.0 L1751.2,521.9 L1752.2,523.8 L1753.1,525.7 L1754.0,527.6 L1754.9,529.4 L1755.8,531.3 L1756.7,533.2 L1757.6,535.1 L1758.5,536.9 L1759.3,538.8 L1760.2,540.7 L1761.0,542.5 L1761.8,544.4 L1762.6,546.2 L1763.4,548.1 L1764.2,549.9 L1765.0,551.8 L1765.8,553.6 L1766.6,555.5 L1767.3,557.3 L1768.1,559.2 L1768.8,561.0 L1769.6,562.9 L1770.3,564.7 L1771.1,566.6 L1771.8,568.4 L1772.5,570.2 L1773.3,572.1 L1774.0,573.9 L1774.7,575.8 L1775.4,577.6 L1776.1,579.5 L1776.8,581.3 L1777.5,583.1 L1778.3,585.0 L1779.0,586.8 L1779.7,588.7 L1780.4,590.5 L1781.1,592.4 L1781.8,594.2 L1782.5,596.0 L1783.3,597.9 L1784.0,599.7 L1784.7,601.6 L1785.4,603.4 L1786.2,605.3 L1786.9,607.2 L1787.6,609.0 L1788.4,610.9 L1789.1,612.7 L1789.9,614.6 L1790.7,616.4 L1791.4,618.3 L1792.2,620.1 L1793.0,622.0 L1793.8,623.8 L1794.6,625.7 L1795.4,627.5 L1796.2,629.4 L1797.1,631.2 L1797.9,633.1 L1798.7,634.9 L1799.6,636.7 L1800.4,638.5 L1801.3,640.4 L1802.2,642.2 L1803.1,644.0 L1804.0,645.8 L1804.9,647.6 L1805.8,649.4 L1806.8,651.1 L1807.7,652.9 L1808.7,654.7 L1809.7,656.4 L1810.6,658.2 L1811.6,659.9 L1812.7,661.6 L1813.7,663.3 L1814.7,665.1 L1815.8,666.7 L1816.8,668.4 L1817.9,670.1 L1819.0,671.8 L1820.1,673.4 L1821.3,675.1 L1822.4,676.7 L1823.6,678.3 L1824.8,679.9 L1826.0,681.5 L1827.2,683.0 L1828.4,684.6 L1829.6,686.1 L1830.9,687.7 L1832.2,689.2 L1833.5,690.7 L1834.8,692.1 L1836.2,693.6 L1837.5,695.0 L1838.9,696.5 L1840.3,697.9 L1841.7,699.2 L1843.2,700.6 L1844.6,702.0 L1846.1,703.3 L1847.6,704.6 L1849.2,705.9 L1850.7,707.2 L1852.3,708.4 L1853.9,709.6 L1855.5,710.8 L1857.1,712.0 L1858.8,713.2 L1860.5,714.3 L1862.2,715.4 L1863.9,716.5 L1865.7,717.6 L1867.5,718.6 L1869.3,719.7 L1871.1,720.7 L1873.0,721.6 L1874.9,722.6 L1876.8,723.5 L1878.7,724.4" fill="none" stroke="#00B050" stroke-width="9.5" stroke-linecap="butt" stroke-linejoin="round"/>
<path d="M1877.6,725.0 L1879.3,723.8 L1881.0,722.6 L1882.7,721.4 L1884.3,720.2 L1885.9,719.0 L1887.6,717.8 L1889.1,716.5 L1890.7,715.2 L1892.3,713.9 L1893.8,712.6 L1895.3,711.2 L1896.8,709.9 L1898.3,708.5 L1899.7,707.1 L1901.2,705.7 L1902.6,704.3 L1904.0,702.9 L1905.4,701.4 L1906.8,700.0 L1908.1,698.5 L1909.4,697.0 L1910.8,695.5 L1912.1,693.9 L1913.3,692.4 L1914.6,690.9 L1915.8,689.3 L1917.1,687.7 L1918.3,686.1 L1919.4,684.5 L1920.6,682.9 L1921.8,681.2 L1922.9,679.6 L1924.0,677.9 L1925.1,676.3 L1926.2,674.6 L1927.3,672.9 L1928.3,671.2 L1929.3,669.5 L1930.4,667.8 L1931.4,666.0 L1932.3,664.3 L1933.3,662.5 L1934.2,660.8 L1935.2,659.0 L1936.1,657.2 L1937.0,655.4 L1937.8,653.6 L1938.7,651.8 L1939.5,650.0 L1940.4,648.1 L1941.2,646.3 L1942.0,644.5 L1942.7,642.6 L1943.5,640.8 L1944.2,638.9 L1945.0,637.0 L1945.7,635.1 L1946.3,633.3 L1947.0,631.4 L1947.7,629.5 L1948.3,627.6 L1948.9,625.7 L1949.6,623.7 L1950.1,621.8 L1950.7,619.9 L1951.3,618.0 L1951.8,616.0 L1952.4,614.1 L1952.9,612.2 L1953.4,610.2 L1953.9,608.3 L1954.3,606.3 L1954.8,604.4 L1955.2,602.4 L1955.7,600.4 L1956.1,598.5 L1956.5,596.5 L1956.9,594.5 L1957.3,592.6 L1957.7,590.6 L1958.1,588.6 L1958.4,586.6 L1958.8,584.6 L1959.2,582.7 L1959.5,580.7 L1959.8,578.7 L1960.2,576.7 L1960.5,574.7 L1960.8,572.7 L1961.1,570.7 L1961.4,568.7 L1961.7,566.7 L1962.0,564.7 L1962.3,562.7 L1962.6,560.7 L1962.9,558.7 L1963.2,556.7 L1963.4,554.7 L1963.7,552.7 L1964.0,550.7 L1964.3,548.7 L1964.6,546.7 L1964.8,544.7 L1965.1,542.7 L1965.4,540.7 L1965.7,538.8 L1966.0,536.8 L1966.2,534.8 L1966.5,532.8 L1966.8,530.8 L1967.1,528.8 L1967.4,526.8 L1967.7,524.8 L1968.0,522.9 L1968.3,520.9 L1968.6,518.9 L1969.0,516.9 L1969.3,515.0 L1969.6,513.0 L1969.9,511.0 L1970.3,509.0 L1970.6,507.1 L1970.9,505.1 L1971.3,503.1 L1971.6,501.2 L1972.0,499.2 L1972.3,497.3 L1972.7,495.3 L1973.1,493.3 L1973.4,491.4 L1973.8,489.4 L1974.2,487.5 L1974.5,485.5 L1974.9,483.6 L1975.3,481.6 L1975.7,479.6 L1976.0,477.7 L1976.4,475.7 L1976.8,473.8 L1977.2,471.8 L1977.6,469.9 L1978.0,467.9 L1978.4,466.0 L1978.8,464.0 L1979.2,462.0 L1979.6,460.1 L1980.0,458.1 L1980.4,456.2 L1980.8,454.2 L1981.2,452.3 L1981.6,450.3 L1982.0,448.3 L1982.4,446.4 L1982.8,444.4 L1983.3,442.4 L1983.7,440.5 L1984.1,438.5 L1984.5,436.5 L1984.9,434.6 L1985.3,432.6 L1985.8,430.6 L1986.2,428.6 L1986.6,426.7 L1987.0,424.7 L1987.4,422.7 L1987.9,420.7 L1988.3,418.7 L1988.7,416.8 L1989.1,414.8 L1989.5,412.8 L1990.0,410.8 L1990.4,408.8 L1990.8,406.8 L1991.2,404.8 L1991.7,402.8 L1992.1,400.8 L1992.5,398.8 L1993.0,396.8 L1993.4,394.8 L1993.9,392.8 L1994.4,390.8 L1994.9,388.8 L1995.4,386.9 L1996.0,384.9 L1996.6,382.9 L1997.2,381.0 L1997.8,379.1 L1998.4,377.1 L1999.1,375.2 L1999.9,373.3 L2000.6,371.4 L2001.4,369.6 L2002.2,367.7 L2003.1,365.9 L2004.0,364.1 L2005.0,362.3 L2006.0,360.5 L2007.1,358.9 L2008.2,357.4 L2009.3,356.1 L2010.5,355.3 L2011.7,355.0 L2012.9,355.3 L2014.2,356.0 L2015.4,357.0 L2016.6,358.2 L2017.8,359.4 L2018.9,360.8 L2020.0,362.2 L2021.0,363.7 L2022.1,365.3 L2023.0,367.0 L2024.0,368.7 L2024.9,370.5 L2025.8,372.3 L2026.6,374.2 L2027.4,376.1 L2028.2,378.1 L2029.0,380.1 L2029.7,382.1 L2030.4,384.2 L2031.1,386.3 L2031.8,388.3 L2032.4,390.4 L2033.1,392.5 L2033.7,394.6 L2034.3,396.7 L2034.8,398.8 L2035.4,400.8 L2036.0,402.9 L2036.5,404.9 L2037.0,406.9 L2037.5,409.0 L2038.0,411.0 L2038.5,413.0 L2039.0,414.9 L2039.5,416.9 L2039.9,418.9 L2040.4,420.8 L2040.8,422.8 L2041.2,424.8 L2041.7,426.7 L2042.1,428.6 L2042.5,430.6 L2042.9,432.5 L2043.3,434.5 L2043.7,436.4 L2044.1,438.3 L2044.5,440.3 L2044.9,442.2 L2045.3,444.1 L2045.7,446.1 L2046.1,448.0 L2046.5,449.9 L2046.9,451.9 L2047.3,453.8 L2047.7,455.8 L2048.1,457.7 L2048.5,459.7 L2048.9,461.6 L2049.3,463.6 L2049.7,465.5 L2050.1,467.5 L2050.5,469.4 L2050.9,471.4 L2051.3,473.3 L2051.7,475.3 L2052.1,477.2 L2052.5,479.2 L2052.9,481.1 L2053.3,483.1 L2053.7,485.0 L2054.1,487.0 L2054.5,489.0 L2054.9,490.9 L2055.4,492.9 L2055.8,494.8 L2056.2,496.8 L2056.6,498.7 L2057.1,500.7 L2057.5,502.6 L2057.9,504.6 L2058.4,506.6 L2058.8,508.5 L2059.2,510.5 L2059.7,512.4 L2060.1,514.4 L2060.6,516.3 L2061.0,518.3 L2061.5,520.2 L2062.0,522.2 L2062.4,524.1 L2062.9,526.1 L2063.4,528.0 L2063.9,530.0 L2064.4,531.9 L2064.9,533.8 L2065.4,535.8 L2065.9,537.7 L2066.4,539.7 L2066.9,541.6 L2067.4,543.5 L2067.9,545.5 L2068.4,547.4 L2069.0,549.3 L2069.5,551.3 L2070.1,553.2 L2070.6,555.1 L2071.2,557.0 L2071.7,558.9 L2072.3,560.9 L2072.9,562.8 L2073.5,564.7 L2074.1,566.6 L2074.7,568.5 L2075.3,570.4 L2075.9,572.3 L2076.5,574.2 L2077.1,576.1 L2077.7,578.0 L2078.4,579.9 L2079.0,581.8 L2079.7,583.7 L2080.4,585.6 L2081.0,587.4 L2081.7,589.3 L2082.4,591.2 L2083.1,593.1 L2083.8,594.9 L2084.5,596.8 L2085.2,598.6 L2086.0,600.5 L2086.7,602.3 L2087.5,604.2 L2088.2,606.0 L2089.0,607.9 L2089.8,609.7 L2090.5,611.5 L2091.3,613.4 L2092.1,615.2 L2093.0,617.0 L2093.8,618.8 L2094.6,620.6 L2095.5,622.5 L2096.3,624.3 L2097.2,626.1 L2098.1,627.8 L2099.0,629.6 L2099.9,631.4 L2100.8,633.2 L2101.7,635.0 L2102.6,636.7 L2103.6,638.5 L2104.5,640.3 L2105.5,642.0 L2106.5,643.8 L2107.5,645.5 L2108.5,647.2 L2109.5,649.0 L2110.5,650.7 L2111.5,652.4 L2112.6,654.1 L2113.7,655.9 L2114.7,657.6 L2115.8,659.3 L2116.9,661.0 L2118.0,662.6 L2119.2,664.3 L2120.3,666.0 L2121.5,667.7 L2122.6,669.3 L2123.8,671.0 L2125.0,672.6 L2126.2,674.3 L2127.4,675.9 L2128.7,677.5 L2129.9,679.2 L2131.2,680.8 L2132.5,682.4 L2133.8,684.0 L2135.1,685.6 L2136.4,687.2 L2137.7,688.7 L2139.1,690.3 L2140.4,691.8 L2141.8,693.4 L2143.2,694.9 L2144.6,696.3 L2146.1,697.8 L2147.5,699.3 L2149.0,700.7 L2150.4,702.1 L2151.9,703.5 L2153.4,704.8 L2154.9,706.2 L2156.5,707.5 L2158.0,708.7 L2159.6,710.0 L2161.2,711.2 L2162.8,712.4 L2164.4,713.5 L2166.0,714.7 L2167.7,715.7 L2169.3,716.8 L2171.0,717.8 L2172.7,718.8 L2174.4,719.7 L2176.1,720.6 L2177.9,721.4 L2179.6,722.3 L2181.4,723.0 L2183.2,723.7 L2185.0,724.4 L2186.9,725.0 L2188.7,725.6 L2190.6,726.1 L2192.5,726.6 L2194.4,727.0 L2196.3,727.4 L2198.2,727.7 L2200.2,728.0 L2202.1,728.2 L2204.1,728.4 L2206.1,728.5 L2208.1,728.6 L2210.1,728.6 L2212.1,728.6 L2214.2,728.6 L2216.2,728.5 L2218.3,728.4 L2220.3,728.2 L2222.3,728.0 L2224.4,727.8 L2226.5,727.6 L2228.5,727.3 L2230.5,727.0 L2232.6,726.7 L2234.6,726.4 L2236.7,726.0 L2238.7,725.6 L2240.7,725.2 L2242.7,724.8 L2244.7,724.4 L2246.7,724.0 L2248.7,723.6 L2250.6,723.1 L2252.6,722.7 L2254.5,722.2 L2256.4,721.8 L2258.3,721.3 L2260.1,720.9 L2262.0,720.5" fill="none" stroke="#00B050" stroke-width="9.5" stroke-linecap="butt" stroke-linejoin="round"/>
<polygon points="637.6,966.0 636.4,1040.0 635.3,1092.0 633.8,1180.0 634.5,1260.0 637.3,1330.0 641.0,1400.0 643.5,1450.0 644.0,1697.0 654.0,1697.0 653.5,1500.0 652.5,1420.0 651.7,1330.0 649.6,1200.0 649.1,1092.0 647.9,1040.0 647.9,966.0" fill="#FF0000"/>
<polygon points="644.5,1522 650,1522 668,1612 667,1619 662,1617 662,1632 657,1616 650,1618 649,1640 644.5,1640" fill="#FF0000"/>
<path d="M125.0,1329.0 C132.7,1329.3 156.0,1330.1 171.0,1330.7 C186.0,1331.3 205.4,1334.1 215.0,1332.4 C224.6,1330.7 223.7,1328.2 228.8,1320.5 C234.0,1312.8 240.2,1295.3 245.9,1286.5 C251.6,1277.7 257.8,1272.0 262.9,1267.8 C268.0,1263.5 272.0,1260.1 276.5,1261.0 C281.0,1261.9 284.9,1265.9 290.0,1273.0 C295.1,1280.1 301.9,1294.7 307.0,1303.5 C312.1,1312.3 315.0,1319.9 320.7,1325.6 C326.4,1331.3 331.9,1334.2 341.0,1337.6 C350.1,1341.0 369.3,1344.6 375.0,1346.0" fill="none" stroke="#00B050" stroke-width="15" stroke-linecap="butt" stroke-linejoin="round"/>
<path d="M375.2,1346.3 L377.1,1346.4 L379.0,1346.4 L381.0,1346.4 L382.9,1346.3 L384.9,1346.2 L386.8,1346.0 L388.7,1345.8 L390.7,1345.5 L392.6,1345.1 L394.6,1344.7 L396.5,1344.3 L398.4,1343.8 L400.3,1343.3 L402.3,1342.7 L404.2,1342.1 L406.1,1341.5 L408.0,1340.8 L409.8,1340.0 L411.7,1339.2 L413.6,1338.4 L415.4,1337.6 L417.3,1336.7 L419.1,1335.8 L420.9,1334.8 L422.7,1333.8 L424.5,1332.8 L426.2,1331.7 L428.0,1330.7 L429.7,1329.5 L431.4,1328.4 L433.1,1327.2 L434.8,1326.0 L436.4,1324.8 L438.0,1323.6 L439.6,1322.3 L441.2,1321.0 L442.8,1319.7 L444.3,1318.3 L445.8,1317.0 L447.3,1315.6 L448.7,1314.2 L450.1,1312.8 L451.5,1311.4 L452.9,1310.0 L454.2,1308.5 L455.6,1307.0 L456.9,1305.6 L458.1,1304.1 L459.4,1302.5 L460.6,1301.0 L461.8,1299.5 L463.0,1297.9 L464.2,1296.3 L465.4,1294.8 L466.6,1293.2 L467.7,1291.6 L468.8,1289.9 L469.9,1288.3 L471.0,1286.7 L472.1,1285.0 L473.2,1283.4 L474.2,1281.7 L475.3,1280.0 L476.3,1278.3 L477.4,1276.6 L478.4,1274.9 L479.4,1273.2 L480.5,1271.5 L481.5,1269.8 L482.5,1268.0 L483.5,1266.3 L484.5,1264.5 L485.5,1262.8 L486.5,1261.0 L487.5,1259.3 L488.5,1257.5 L489.5,1255.8 L490.5,1254.0 L491.5,1252.2 L492.5,1250.4 L493.5,1248.7 L494.5,1246.9 L495.5,1245.1 L496.5,1243.3 L497.5,1241.5 L498.5,1239.7 L499.4,1237.9 L500.4,1236.1 L501.4,1234.3 L502.3,1232.5 L503.2,1230.7 L504.2,1228.9 L505.1,1227.1 L506.0,1225.3 L506.9,1223.5 L507.8,1221.7 L508.6,1219.8 L509.5,1218.0 L510.3,1216.2 L511.1,1214.4 L512.0,1212.6 L512.8,1210.8 L513.6,1209.0 L514.3,1207.1 L515.1,1205.3 L515.9,1203.5 L516.6,1201.7 L517.4,1199.9 L518.1,1198.1 L518.9,1196.2 L519.6,1194.4 L520.3,1192.6 L521.1,1190.8 L521.8,1188.9 L522.5,1187.1 L523.2,1185.3 L523.9,1183.4 L524.6,1181.6 L525.3,1179.8 L526.0,1178.0 L526.8,1176.1 L527.5,1174.3 L528.2,1172.4 L528.9,1170.6 L529.6,1168.8 L530.3,1166.9 L531.0,1165.1 L531.8,1163.2 L532.5,1161.4 L533.2,1159.5 L534.0,1157.7 L534.7,1155.8 L535.5,1154.0 L536.3,1152.1 L537.0,1150.3 L537.8,1148.4 L538.6,1146.6 L539.4,1144.7 L540.2,1142.8 L541.1,1141.0 L541.9,1139.1 L542.7,1137.2 L543.6,1135.4 L544.5,1133.5 L545.4,1131.6 L546.3,1129.7 L547.2,1127.9 L548.1,1126.0 L549.1,1124.1 L550.1,1122.2 L551.1,1120.3 L552.1,1118.4 L553.1,1116.5 L554.1,1114.7 L555.2,1112.8 L556.3,1110.9 L557.4,1109.0 L558.5,1107.2 L559.7,1105.5 L560.9,1104.0 L562.2,1102.7 L563.5,1101.6 L564.9,1100.9 L566.3,1100.5 L567.8,1100.6 L569.3,1101.0 L570.9,1101.8 L572.5,1102.9 L574.0,1104.2 L575.5,1105.7 L577.0,1107.4 L578.4,1109.1 L579.6,1110.9 L580.7,1112.7 L581.7,1114.6 L582.7,1116.4 L583.5,1118.3 L584.3,1120.2 L585.0,1122.1 L585.6,1124.0 L586.2,1125.9 L586.8,1127.8 L587.4,1129.7 L587.9,1131.7 L588.4,1133.6 L588.9,1135.5 L589.4,1137.5 L589.9,1139.4 L590.4,1141.4 L590.9,1143.3 L591.4,1145.2 L591.8,1147.2 L592.3,1149.1 L592.8,1151.1 L593.2,1153.0 L593.7,1155.0 L594.1,1156.9 L594.5,1158.9 L595.0,1160.9 L595.4,1162.8 L595.8,1164.8 L596.2,1166.7 L596.7,1168.7 L597.1,1170.6 L597.5,1172.6 L597.9,1174.6 L598.3,1176.5 L598.8,1178.5 L599.2,1180.4 L599.6,1182.4 L600.0,1184.3 L600.5,1186.3 L600.9,1188.2 L601.3,1190.2 L601.8,1192.1 L602.2,1194.1 L602.6,1196.0 L603.1,1198.0 L603.6,1199.9 L604.0,1201.9 L604.5,1203.8 L605.0,1205.8 L605.5,1207.7 L606.0,1209.6 L606.5,1211.6 L607.0,1213.5 L607.5,1215.4 L608.0,1217.4 L608.5,1219.3 L609.0,1221.2 L609.6,1223.2 L610.1,1225.1 L610.6,1227.0 L611.2,1228.9 L611.8,1230.9 L612.3,1232.8 L612.9,1234.7 L613.5,1236.6 L614.1,1238.5 L614.6,1240.5 L615.2,1242.4 L615.8,1244.3 L616.4,1246.2 L617.0,1248.2 L617.6,1250.1 L618.2,1252.0 L618.8,1253.9 L619.4,1255.9 L619.9,1257.8 L620.5,1259.7 L621.1,1261.6 L621.6,1263.6 L622.2,1265.5 L622.7,1267.4 L623.2,1269.4 L623.7,1271.3 L624.2,1273.2 L624.7,1275.2 L625.2,1277.1 L625.6,1279.1 L626.0,1281.0 L626.5,1283.0 L626.8,1284.9 L627.2,1286.9 L627.6,1288.9 L627.9,1290.8 L628.2,1292.8 L628.5,1294.8 L628.7,1296.7 L629.0,1298.7 L629.3,1300.7 L629.5,1302.7 L629.7,1304.6 L629.9,1306.6 L630.1,1308.6 L630.3,1310.6 L630.5,1312.6 L630.7,1314.6 L630.8,1316.6 L631.0,1318.5 L631.2,1320.5 L631.3,1322.5 L631.5,1324.5 L631.6,1326.5 L631.8,1328.5 L631.9,1330.5 L632.0,1332.5 L632.2,1334.5 L632.3,1336.5 L632.5,1338.5 L632.6,1340.5 L632.7,1342.5 L632.8,1344.5 L632.9,1346.5 L633.1,1348.5 L633.2,1350.5 L633.3,1352.5 L633.4,1354.5 L633.5,1356.5 L633.6,1358.5 L633.7,1360.5 L633.8,1362.5 L633.9,1364.5 L634.0,1366.5 L634.1,1368.6 L634.2,1370.6 L634.3,1372.6 L634.4,1374.6 L634.5,1376.6 L634.6,1378.6 L634.7,1380.6 L634.8,1382.6 L634.9,1384.6 L635.0,1386.6 L635.1,1388.6 L635.2,1390.6 L635.3,1392.6 L635.4,1394.7 L635.5,1396.7 L635.6,1398.7 L635.7,1400.7 L635.8,1402.7 L635.9,1404.7 L636.0,1406.7 L636.1,1408.7 L636.2,1410.7 L636.4,1412.7 L636.5,1414.7 L636.6,1416.7 L636.7,1418.7 L636.8,1420.8 L636.9,1422.8 L637.0,1424.8 L637.2,1426.8 L637.3,1428.8 L637.4,1430.8 L637.5,1432.8 L637.7,1434.8 L637.8,1436.8 L638.0,1438.8 L638.1,1440.8 L638.2,1442.8 L638.4,1444.8 L638.5,1446.8 L638.7,1448.8 L638.9,1450.8 L639.0,1452.8 L639.2,1454.8 L639.4,1456.8 L639.5,1458.8 L639.7,1460.8 L639.9,1462.8 L640.1,1464.8 L640.3,1466.7 L640.5,1468.7 L640.7,1470.7 L640.9,1472.7 L641.1,1474.7 L641.4,1476.7 L641.6,1478.7 L641.8,1480.7 L642.1,1482.6 L642.3,1484.6 L642.5,1486.6 L642.8,1488.6 L643.1,1490.6 L643.3,1492.5 L643.6,1494.5 L643.9,1496.5 L644.2,1498.5 L644.5,1500.4 L644.8,1502.4 L645.1,1504.4 L645.4,1506.4 L645.7,1508.3 L646.1,1510.3 L646.4,1512.3 L646.8,1514.2 L647.1,1516.2 L647.5,1518.1 L647.8,1520.1 L648.2,1522.0 L648.6,1524.0 L649.0,1526.0 L649.4,1527.9 L649.8,1529.9 L650.3,1531.8 L650.7,1533.8 L651.1,1535.7 L651.6,1537.6 L652.0,1539.6 L652.5,1541.5 L653.0,1543.5 L653.5,1545.4 L654.0,1547.3 L654.5,1549.3 L655.0,1551.2 L655.5,1553.1 L656.1,1555.0 L656.6,1557.0 L657.2,1558.9 L657.7,1560.8 L658.3,1562.7 L658.9,1564.6 L659.5,1566.6 L660.1,1568.5 L660.7,1570.4 L661.3,1572.3 L661.9,1574.2 L662.5,1576.1 L663.1,1578.0 L663.8,1580.0 L664.4,1581.9 L665.0,1583.8 L665.6,1585.7 L666.3,1587.6 L666.9,1589.5 L667.5,1591.4 L668.2,1593.4 L668.8,1595.3 L669.4,1597.2 L670.0,1599.1 L670.7,1601.0 L671.3,1603.0 L671.9,1604.9 L672.5,1606.8 L673.1,1608.8 L673.7,1610.7 L674.2,1612.6 L674.8,1614.6 L675.4,1616.5 L676.0,1618.5 L676.5,1620.4 L677.1,1622.3 L677.8,1624.3 L678.4,1626.2 L679.1,1628.1 L679.8,1630.0 L680.6,1631.8 L681.5,1633.7 L682.4,1635.5 L683.4,1637.3 L684.5,1638.9 L685.7,1640.4 L687.0,1641.5 L688.4,1642.2 L690.0,1642.4 L691.7,1642.1 L693.5,1641.4 L695.3,1640.4 L697.0,1639.2 L698.7,1638.0 L700.2,1636.6 L701.7,1635.2 L703.1,1633.8 L704.5,1632.2 L705.8,1630.7 L707.0,1629.1 L708.2,1627.5 L709.4,1625.8 L710.6,1624.2 L711.8,1622.6 L713.0,1620.9 L714.2,1619.2 L715.3,1617.6 L716.5,1615.9 L717.6,1614.3 L718.8,1612.6 L719.9,1610.9 L721.1,1609.3 L722.2,1607.6 L723.3,1605.9 L724.4,1604.2 L725.6,1602.6 L726.7,1600.9 L727.8,1599.2 L728.9,1597.5 L730.0,1595.8 L731.1,1594.1 L732.2,1592.4 L733.2,1590.7 L734.3,1589.0 L735.4,1587.3 L736.5,1585.6 L737.5,1583.9 L738.6,1582.2 L739.7,1580.5 L740.7,1578.8 L741.8,1577.1 L742.8,1575.4 L743.8,1573.7 L744.9,1572.0 L745.9,1570.3 L746.9,1568.6 L747.9,1566.9 L749.0,1565.2 L750.0,1563.5 L751.0,1561.7 L752.0,1560.0 L753.0,1558.3 L754.0,1556.6 L755.0,1554.9 L756.0,1553.2 L757.0,1551.4 L758.0,1549.7 L758.9,1548.0 L759.9,1546.3 L760.9,1544.5 L761.9,1542.8 L762.8,1541.1 L763.8,1539.4 L764.7,1537.6 L765.7,1535.9 L766.7,1534.2 L767.6,1532.4 L768.6,1530.7 L769.5,1528.9 L770.4,1527.2 L771.4,1525.4 L772.3,1523.7 L773.3,1521.9 L774.2,1520.2 L775.1,1518.4 L776.0,1516.6 L777.0,1514.8 L777.9,1513.1 L778.8,1511.3 L779.7,1509.5 L780.7,1507.7 L781.6,1505.9 L782.5,1504.1 L783.4,1502.3 L784.3,1500.4 L785.2,1498.6 L786.1,1496.8 L787.1,1494.9 L788.0,1493.1 L788.9,1491.3 L789.8,1489.4 L790.8,1487.6 L791.7,1485.8 L792.7,1484.0 L793.7,1482.2 L794.7,1480.4 L795.7,1478.7 L796.7,1476.9 L797.8,1475.2 L798.8,1473.5 L799.9,1471.8 L801.0,1470.1 L802.2,1468.5 L803.3,1466.8 L804.5,1465.2 L805.7,1463.6 L806.9,1462.0 L808.1,1460.5 L809.4,1458.9 L810.6,1457.4 L811.9,1455.9 L813.2,1454.4 L814.5,1452.9 L815.9,1451.4 L817.2,1450.0 L818.6,1448.6 L820.0,1447.1 L821.4,1445.7 L822.8,1444.4 L824.2,1443.0 L825.7,1441.7 L827.1,1440.3 L828.6,1439.0 L830.1,1437.7 L831.6,1436.4 L833.1,1435.2 L834.6,1433.9 L836.2,1432.7 L837.8,1431.4 L839.3,1430.2 L840.9,1429.0 L842.5,1427.9 L844.1,1426.7 L845.7,1425.5 L847.4,1424.4 L849.0,1423.3 L850.7,1422.2 L852.3,1421.1 L854.0,1420.0 L855.7,1418.9 L857.4,1417.9 L859.1,1416.8 L860.8,1415.8 L862.6,1414.8 L864.3,1413.8 L866.1,1412.8 L867.8,1411.8 L869.6,1410.9 L871.4,1409.9 L873.1,1409.0 L874.9,1408.1 L876.7,1407.1 L878.5,1406.2 L880.3,1405.4 L882.2,1404.5 L884.0,1403.6 L885.8,1402.8 L887.7,1401.9 L889.5,1401.1 L891.4,1400.3 L893.2,1399.4 L895.1,1398.7 L896.9,1397.9 L898.8,1397.1 L900.7,1396.3 L902.6,1395.6 L904.4,1394.8 L906.3,1394.1 L908.2,1393.4 L910.1,1392.6 L912.0,1391.9 L913.9,1391.2 L915.8,1390.5 L917.7,1389.9 L919.6,1389.2 L921.5,1388.5 L923.5,1387.9 L925.4,1387.2 L927.3,1386.6 L929.2,1386.0 L931.1,1385.4 L933.0,1384.8 L934.9,1384.2 L936.8,1383.6 L938.8,1383.0 L940.7,1382.4 L942.6,1381.8 L944.5,1381.3 L946.4,1380.7 L948.3,1380.2 L950.2,1379.6 L952.2,1379.1 L954.1,1378.5 L956.0,1378.0 L957.9,1377.5 L959.8,1377.0 L961.7,1376.4 L963.6,1375.9 L965.6,1375.4 L967.5,1374.9 L969.4,1374.4 L971.3,1373.9 L973.2,1373.3 L975.1,1372.8 L977.0,1372.3 L979.0,1371.8 L980.9,1371.3 L982.8,1370.8 L984.7,1370.3 L986.6,1369.7 L988.5,1369.2 L990.5,1368.7 L992.4,1368.2 L994.3,1367.6 L996.2,1367.1 L998.1,1366.6 L1000.1,1366.0 L1002.0,1365.5 L1003.9,1364.9 L1005.8,1364.3 L1007.7,1363.8 L1009.7,1363.2 L1011.6,1362.6 L1013.5,1362.0 L1015.4,1361.4 L1017.4,1360.8 L1019.3,1360.2 L1021.2,1359.6 L1023.1,1359.0 L1025.1,1358.4 L1027.0,1357.8 L1028.9,1357.2 L1030.9,1356.6 L1032.8,1356.1 L1034.7,1355.5 L1036.7,1354.9 L1038.6,1354.4 L1040.6,1353.9 L1042.5,1353.3 L1044.4,1352.8 L1046.4,1352.4 L1048.4,1351.9 L1050.3,1351.4 L1052.3,1351.0 L1054.2,1350.6 L1056.2,1350.3 L1058.2,1349.9 L1060.2,1349.6 L1062.1,1349.2 L1064.1,1348.9 L1066.1,1348.7 L1068.1,1348.4 L1070.1,1348.1 L1072.1,1347.9 L1074.0,1347.7 L1076.0,1347.5 L1078.0,1347.3 L1080.0,1347.1 L1082.0,1346.9 L1084.0,1346.8 L1086.0,1346.6 L1088.0,1346.5 L1090.0,1346.3 L1092.0,1346.2 L1094.0,1346.1 L1096.0,1346.0 L1098.0,1345.9 L1100.0,1345.7 L1102.0,1345.6 L1104.0,1345.5 L1106.0,1345.5 L1108.0,1345.4 L1110.0,1345.3" fill="none" stroke="#FFC000" stroke-width="15.5" stroke-linecap="butt" stroke-linejoin="round"/>
<path d="M1303.6,1414.0 C1318.3,1415.4 1363.1,1420.0 1392.0,1422.6 C1420.9,1425.2 1448.7,1427.8 1477.0,1429.4 C1505.3,1431.1 1530.8,1432.3 1562.0,1432.5 C1593.2,1432.7 1641.0,1431.0 1664.0,1430.5 C1687.0,1430.0 1690.6,1429.3 1700.0,1429.5 C1709.4,1429.7 1714.1,1431.9 1720.6,1431.5 C1727.1,1431.1 1733.7,1430.2 1739.0,1427.0 C1744.3,1423.8 1748.5,1418.7 1752.7,1412.4 C1756.9,1406.2 1761.1,1398.3 1764.2,1389.5 C1767.3,1380.7 1769.2,1372.3 1771.1,1359.7 C1773.0,1347.1 1774.3,1332.9 1775.6,1313.8 C1776.9,1294.7 1778.1,1267.9 1779.1,1245.0 C1780.1,1222.1 1780.6,1199.2 1781.4,1176.3 C1782.2,1153.4 1782.9,1130.4 1783.7,1107.5 C1784.5,1084.6 1785.2,1056.9 1786.0,1038.8 C1786.8,1020.7 1787.6,1006.6 1788.3,999.0 C1789.0,991.4 1789.5,992.1 1790.3,993.0 C1791.0,993.9 1791.8,996.8 1792.8,1004.4 C1793.8,1012.0 1794.9,1021.6 1796.3,1038.8 C1797.7,1056.0 1799.6,1084.6 1800.9,1107.5 C1802.2,1130.4 1803.2,1153.4 1804.3,1176.3 C1805.4,1199.2 1806.8,1222.1 1807.7,1245.0 C1808.6,1267.9 1809.1,1290.9 1809.5,1313.8 C1809.9,1336.7 1810.0,1364.9 1810.2,1382.6 C1810.4,1400.3 1810.6,1407.1 1810.8,1420.0 C1811.0,1432.9 1811.1,1446.7 1811.5,1460.0 C1811.9,1473.3 1812.4,1486.6 1813.0,1500.0 C1813.6,1513.4 1814.3,1527.0 1815.2,1540.4 C1816.1,1553.8 1817.1,1567.1 1818.4,1580.5 C1819.7,1593.9 1821.3,1608.4 1822.9,1620.7 C1824.5,1633.0 1826.4,1645.6 1828.2,1654.1 C1830.0,1662.6 1831.6,1667.5 1833.6,1671.5 C1835.6,1675.5 1837.8,1677.8 1840.3,1678.2 C1842.8,1678.7 1845.6,1677.1 1848.3,1674.2 C1851.0,1671.3 1853.8,1666.4 1856.3,1660.8 C1858.8,1655.2 1861.0,1649.6 1863.0,1640.7 C1865.0,1631.8 1866.6,1619.5 1868.4,1607.3 C1870.2,1595.0 1871.9,1578.3 1873.7,1567.2 C1875.5,1556.1 1877.3,1548.9 1879.1,1540.4 C1880.9,1531.9 1882.2,1524.1 1884.4,1516.3 C1886.6,1508.5 1889.7,1499.8 1892.4,1493.6 C1895.1,1487.4 1897.8,1482.9 1900.5,1478.9 C1903.2,1474.9 1907.2,1471.1 1908.5,1469.5" fill="none" stroke="#FF0000" stroke-width="10" stroke-linecap="butt" stroke-linejoin="round"/>
<path d="M1908.5,1469.5 C1908.5,1467.9 1907.8,1462.3 1908.5,1460.1 C1909.2,1457.9 1909.4,1457.2 1912.5,1456.1 C1915.6,1455.0 1919.3,1454.4 1927.2,1453.4 C1935.1,1452.4 1929.9,1451.1 1960.0,1450.0 C1990.1,1448.9 2052.4,1447.3 2108.0,1447.0 C2163.6,1446.7 2262.6,1448.2 2293.5,1448.4" fill="none" stroke="#FF0000" stroke-width="10" stroke-linecap="butt" stroke-linejoin="round"/>
<path d="M145.3,2569.7 C159.8,2570.2 206.2,2573.0 232.0,2573.0 C257.8,2573.0 284.7,2571.9 300.0,2569.7 C315.3,2567.4 318.5,2564.6 323.9,2559.5 C329.3,2554.4 329.8,2550.9 332.4,2539.0 C334.9,2527.1 336.9,2513.5 339.2,2488.0 C341.5,2462.5 344.0,2420.0 346.0,2386.0 C348.0,2352.0 349.9,2318.0 351.0,2284.0 C352.1,2250.0 351.9,2210.3 352.8,2182.0 C353.7,2153.7 354.8,2126.7 356.2,2114.0 C357.6,2101.3 359.6,2104.4 361.3,2105.6 C363.0,2106.8 364.4,2108.3 366.4,2121.0 C368.4,2133.7 370.6,2157.7 373.2,2182.0 C375.8,2206.3 379.1,2238.7 381.7,2267.0 C384.2,2295.3 385.7,2320.8 388.5,2352.0 C391.3,2383.2 395.6,2422.8 398.7,2454.0 C401.8,2485.2 404.4,2520.8 407.2,2539.0 C410.0,2557.2 410.9,2557.3 415.7,2563.0 C420.5,2568.7 424.6,2570.5 436.0,2573.0 C447.4,2575.5 472.5,2577.2 484.2,2577.8 C495.9,2578.4 500.6,2577.8 506.3,2576.3 C512.0,2574.8 514.4,2572.7 518.1,2569.0 C521.8,2565.3 525.7,2560.4 528.4,2554.2 C531.1,2548.0 532.6,2540.6 534.3,2532.0 C536.0,2523.4 537.2,2512.4 538.7,2502.6 C540.2,2492.8 541.4,2483.1 543.2,2473.2 C545.0,2463.2 547.7,2450.6 549.4,2442.9 C551.1,2435.2 551.8,2432.3 553.3,2427.0 C554.8,2421.7 556.0,2417.0 558.1,2411.1 C560.2,2405.2 563.1,2397.9 566.0,2391.3 C568.9,2384.7 572.4,2378.7 575.6,2371.4 C578.8,2364.1 581.8,2355.5 585.1,2347.6 C588.4,2339.7 592.1,2331.7 595.4,2323.8 C598.7,2315.9 601.8,2306.9 604.9,2300.0 C608.0,2293.1 610.6,2288.8 614.3,2282.1 C617.9,2275.4 622.1,2268.3 626.8,2260.0 C631.5,2251.7 637.2,2241.1 642.7,2232.3 C648.2,2223.5 654.0,2215.3 659.7,2207.4 C665.4,2199.5 671.0,2191.7 676.7,2184.7 C682.4,2177.7 688.0,2171.4 693.7,2165.4 C699.4,2159.4 705.0,2153.7 710.7,2148.4 C716.4,2143.1 722.0,2138.4 727.7,2133.7 C733.4,2129.0 739.0,2124.4 744.7,2120.1 C750.4,2115.8 756.0,2111.4 761.7,2107.6 C767.4,2103.8 773.0,2100.2 778.7,2097.4 C784.4,2094.6 790.0,2092.2 795.7,2090.6 C801.4,2088.9 804.2,2087.3 812.7,2087.5 C821.2,2087.7 837.0,2088.9 846.9,2092.0 C856.8,2095.1 862.4,2100.6 871.8,2106.0 C881.1,2111.4 891.0,2119.4 903.0,2124.6 C915.0,2129.8 931.5,2136.5 943.5,2137.0 C955.5,2137.5 963.3,2133.9 974.7,2127.7 C986.1,2121.5 1000.6,2108.5 1012.0,2099.7 C1023.4,2090.9 1034.5,2080.9 1043.3,2074.7 C1052.1,2068.5 1058.2,2064.9 1065.0,2062.3 C1071.8,2059.7 1079.7,2058.5 1083.9,2059.0 C1088.1,2059.5 1089.0,2064.3 1090.0,2065.4" fill="none" stroke="#FFC000" stroke-width="9.5" stroke-linecap="butt" stroke-linejoin="round"/>
<path d="M145.3,2571.4 C154.1,2572.0 177.9,2573.4 198.0,2574.8 C218.1,2576.2 246.7,2579.5 266.0,2580.0 C285.3,2580.5 302.4,2580.8 313.7,2578.0 C325.0,2575.2 328.3,2568.3 334.0,2563.0 C339.7,2557.7 343.1,2551.1 347.7,2546.0 C352.2,2540.9 356.8,2532.9 361.3,2532.3 C365.9,2531.7 369.3,2536.6 375.0,2542.5 C380.7,2548.4 388.5,2562.1 395.3,2568.0 C402.1,2573.9 408.2,2575.8 415.7,2578.0 C423.1,2580.2 428.6,2580.8 440.0,2581.5 C451.4,2582.2 471.4,2582.2 484.2,2582.2 C497.0,2582.2 509.2,2582.5 516.6,2581.5 C524.0,2580.5 524.5,2579.1 528.4,2576.3 C532.3,2573.5 537.0,2569.4 540.2,2564.5 C543.4,2559.6 545.6,2553.5 547.6,2546.9 C549.6,2540.3 550.5,2533.4 552.0,2524.8 C553.5,2516.2 554.7,2506.1 556.4,2495.3 C558.1,2484.5 560.5,2471.4 562.1,2460.0 C563.7,2448.6 564.5,2437.8 566.0,2427.0 C567.5,2416.2 569.3,2404.5 570.8,2395.2 C572.3,2385.9 573.4,2380.7 574.8,2371.4 C576.2,2362.2 577.5,2351.6 579.1,2339.7 C580.7,2327.8 582.4,2315.7 584.3,2300.0 C586.2,2284.3 588.2,2265.0 590.7,2245.3 C593.2,2225.6 596.7,2200.3 599.6,2181.9 C602.5,2163.5 606.2,2148.4 608.4,2134.7 C610.6,2121.0 610.7,2111.2 613.0,2099.7 C615.3,2088.1 618.0,2074.5 622.4,2065.4 C626.8,2056.3 634.6,2047.2 639.5,2045.0 C644.4,2042.8 649.0,2049.5 652.0,2052.0 C655.0,2054.5 654.8,2055.8 657.4,2060.0 C660.0,2064.2 664.0,2071.3 667.6,2077.0 C671.2,2082.7 675.2,2089.8 679.0,2094.0 C682.8,2098.2 686.0,2100.1 690.3,2102.0 C694.6,2103.9 699.7,2105.4 705.0,2105.4 C710.3,2105.4 716.3,2103.7 722.0,2102.0 C727.7,2100.3 732.4,2097.9 739.0,2095.1 C745.6,2092.3 754.1,2088.4 761.7,2085.0 C769.3,2081.6 776.8,2077.7 784.4,2074.7 C792.0,2071.7 800.3,2068.8 807.1,2066.8 C813.9,2064.9 818.4,2063.8 825.0,2063.0 C831.6,2062.2 840.1,2061.1 846.9,2062.3 C853.7,2063.5 858.9,2064.3 865.6,2070.0 C872.4,2075.7 880.1,2088.0 887.4,2096.6 C894.7,2105.2 901.4,2115.5 909.2,2121.5 C917.0,2127.5 924.8,2131.4 934.2,2132.4 C943.6,2133.4 954.0,2131.1 965.4,2127.7 C976.8,2124.3 987.2,2118.8 1002.8,2112.0 C1018.4,2105.2 1041.8,2094.2 1059.0,2087.2 C1076.2,2080.2 1097.9,2072.9 1105.7,2070.0" fill="none" stroke="#00B050" stroke-width="9.5" stroke-linecap="butt" stroke-linejoin="round"/>
<path d="M1302.8,2563.6 L1304.9,2563.8 L1307.0,2563.9 L1309.1,2564.1 L1311.2,2564.2 L1313.3,2564.3 L1315.4,2564.4 L1317.4,2564.5 L1319.5,2564.6 L1321.5,2564.7 L1323.5,2564.8 L1325.6,2564.8 L1327.6,2564.9 L1329.6,2564.9 L1331.6,2565.0 L1333.6,2565.0 L1335.6,2565.0 L1337.5,2565.1 L1339.5,2565.1 L1341.5,2565.1 L1343.4,2565.1 L1345.4,2565.1 L1347.4,2565.1 L1349.3,2565.1 L1351.3,2565.1 L1353.2,2565.1 L1355.1,2565.1 L1357.1,2565.1 L1359.0,2565.1 L1361.0,2565.1 L1362.9,2565.1 L1364.8,2565.1 L1366.8,2565.2 L1368.7,2565.2 L1370.6,2565.2 L1372.6,2565.2 L1374.5,2565.2 L1376.5,2565.3 L1378.4,2565.3 L1380.3,2565.4 L1382.3,2565.4 L1384.2,2565.5 L1386.2,2565.5 L1388.2,2565.6 L1390.1,2565.7 L1392.1,2565.8 L1394.1,2565.9 L1396.1,2566.0 L1398.1,2566.2 L1400.0,2566.3 L1402.0,2566.4 L1404.1,2566.6 L1406.1,2566.8 L1408.1,2567.0 L1410.1,2567.2 L1412.2,2567.4 L1414.2,2567.7 L1416.3,2567.9 L1418.4,2568.2 L1420.4,2568.4 L1422.5,2568.7 L1424.6,2569.0 L1426.7,2569.3 L1428.8,2569.6 L1430.9,2569.9 L1433.0,2570.2 L1435.1,2570.5 L1437.2,2570.8 L1439.3,2571.1 L1441.4,2571.3 L1443.5,2571.6 L1445.6,2571.8 L1447.7,2572.0 L1449.8,2572.3 L1451.9,2572.4 L1454.0,2572.6 L1456.0,2572.7 L1458.1,2572.9 L1460.2,2572.9 L1462.2,2573.0 L1464.2,2573.0 L1466.2,2573.0 L1468.3,2573.0 L1470.3,2572.9 L1472.2,2572.8 L1474.2,2572.6 L1476.1,2572.4 L1478.1,2572.1 L1480.0,2571.8 L1481.9,2571.5 L1483.8,2571.1 L1485.6,2570.6 L1487.5,2570.1 L1489.3,2569.5 L1491.1,2568.9 L1492.8,2568.2 L1494.6,2567.4 L1496.3,2566.6 L1498.0,2565.7 L1499.7,2564.8 L1501.3,2563.8 L1502.9,2562.7 L1504.5,2561.6 L1506.1,2560.5 L1507.6,2559.3 L1509.1,2558.0 L1510.6,2556.7 L1512.0,2555.4 L1513.4,2554.0 L1514.8,2552.5 L1516.1,2551.1 L1517.5,2549.6 L1518.7,2548.0 L1520.0,2546.5 L1521.2,2544.9 L1522.4,2543.2 L1523.5,2541.6 L1524.6,2539.9 L1525.6,2538.2 L1526.7,2536.5 L1527.7,2534.8 L1528.6,2533.0 L1529.5,2531.2 L1530.4,2529.4 L1531.2,2527.6 L1532.0,2525.8 L1532.7,2524.0 L1533.5,2522.1 L1534.1,2520.3 L1534.8,2518.4 L1535.4,2516.6 L1536.0,2514.7 L1536.6,2512.8 L1537.1,2510.9 L1537.6,2508.9 L1538.0,2507.0 L1538.5,2505.1 L1538.9,2503.1 L1539.3,2501.2 L1539.6,2499.2 L1540.0,2497.2 L1540.3,2495.2 L1540.6,2493.3 L1540.9,2491.3 L1541.1,2489.3 L1541.4,2487.3 L1541.6,2485.2 L1541.8,2483.2 L1542.0,2481.2 L1542.2,2479.2 L1542.3,2477.1 L1542.5,2475.1 L1542.6,2473.1 L1542.7,2471.0 L1542.8,2469.0 L1542.9,2466.9 L1543.0,2464.9 L1543.1,2462.8 L1543.2,2460.8 L1543.3,2458.7 L1543.3,2456.7 L1543.4,2454.6 L1543.5,2452.6 L1543.5,2450.5 L1543.6,2448.5 L1543.6,2446.4 L1543.7,2444.4 L1543.8,2442.3 L1543.8,2440.3 L1543.9,2438.2 L1544.0,2436.2 L1544.0,2434.2 L1544.1,2432.1 L1544.2,2430.1 L1544.3,2428.1 L1544.3,2426.0 L1544.4,2424.0 L1544.5,2422.0 L1544.6,2420.0 L1544.7,2417.9 L1544.8,2415.9 L1544.9,2413.9 L1545.0,2411.9 L1545.1,2409.9 L1545.2,2407.9 L1545.3,2405.9 L1545.4,2403.9 L1545.5,2401.9 L1545.7,2399.8 L1545.8,2397.8 L1545.9,2395.8 L1546.0,2393.9 L1546.1,2391.9 L1546.2,2389.9 L1546.4,2387.9 L1546.5,2385.9 L1546.6,2383.9 L1546.7,2381.9 L1546.9,2379.9 L1547.0,2377.9 L1547.1,2375.9 L1547.3,2373.9 L1547.4,2372.0 L1547.5,2370.0 L1547.6,2368.0 L1547.8,2366.0 L1547.9,2364.0 L1548.0,2362.0 L1548.2,2360.1 L1548.3,2358.1 L1548.4,2356.1 L1548.6,2354.1 L1548.7,2352.1 L1548.8,2350.2 L1549.0,2348.2 L1549.1,2346.2 L1549.2,2344.2 L1549.4,2342.3 L1549.5,2340.3 L1549.6,2338.3 L1549.8,2336.3 L1549.9,2334.3 L1550.0,2332.4 L1550.2,2330.4 L1550.3,2328.4 L1550.4,2326.4 L1550.6,2324.5 L1550.7,2322.5 L1550.8,2320.5 L1550.9,2318.5 L1551.0,2316.5 L1551.2,2314.6 L1551.3,2312.6 L1551.4,2310.6 L1551.5,2308.6 L1551.6,2306.6 L1551.8,2304.7 L1551.9,2302.7 L1552.0,2300.7 L1552.1,2298.7 L1552.2,2296.7 L1552.3,2294.7 L1552.4,2292.7 L1552.5,2290.8 L1552.6,2288.8 L1552.7,2286.8 L1552.8,2284.8 L1552.9,2282.8 L1553.0,2280.8 L1553.1,2278.8 L1553.2,2276.8 L1553.2,2274.8 L1553.3,2272.8 L1553.4,2270.8 L1553.5,2268.8 L1553.6,2266.8 L1553.6,2264.8 L1553.7,2262.8 L1553.8,2260.8 L1553.9,2258.8 L1553.9,2256.8 L1554.0,2254.8 L1554.1,2252.8 L1554.2,2250.8 L1554.2,2248.8 L1554.3,2246.8 L1554.4,2244.8 L1554.4,2242.8 L1554.5,2240.8 L1554.5,2238.7 L1554.6,2236.7 L1554.7,2234.7 L1554.7,2232.7 L1554.8,2230.7 L1554.9,2228.7 L1554.9,2226.7 L1555.0,2224.7 L1555.0,2222.7 L1555.1,2220.7 L1555.1,2218.6 L1555.2,2216.6 L1555.3,2214.6 L1555.3,2212.6 L1555.4,2210.6 L1555.4,2208.6 L1555.5,2206.6 L1555.5,2204.5 L1555.6,2202.5 L1555.7,2200.5 L1555.7,2198.5 L1555.8,2196.5 L1555.8,2194.5 L1555.9,2192.5 L1555.9,2190.4 L1556.0,2188.4 L1556.1,2186.4 L1556.1,2184.4 L1556.2,2182.4 L1556.2,2180.4 L1556.3,2178.4 L1556.4,2176.4 L1556.4,2174.3 L1556.5,2172.3 L1556.5,2170.3 L1556.6,2168.3 L1556.7,2166.3 L1556.7,2164.3 L1556.8,2162.3 L1556.9,2160.3 L1556.9,2158.2 L1557.0,2156.2 L1557.1,2154.2 L1557.1,2152.2 L1557.2,2150.2 L1557.3,2148.2 L1557.4,2146.2 L1557.4,2144.2 L1557.5,2142.2 L1557.6,2140.2 L1557.7,2138.1 L1557.8,2136.1 L1557.8,2134.1 L1557.9,2132.1 L1558.0,2130.1 L1558.1,2128.1 L1558.2,2126.1 L1558.3,2124.1 L1558.4,2122.1 L1558.5,2120.1 L1558.6,2118.1 L1558.7,2116.1 L1558.8,2114.1 L1558.9,2112.1 L1559.0,2110.1 L1559.1,2108.1 L1559.2,2106.1 L1559.3,2104.1 L1559.4,2102.1 L1559.5,2100.1 L1559.7,2098.2 L1559.8,2096.2 L1559.9,2094.2 L1560.0,2092.2 L1560.2,2090.2 L1560.3,2088.2 L1560.4,2086.2 L1560.6,2084.2 L1560.7,2082.3 L1560.9,2080.3 L1561.0,2078.3 L1561.1,2076.3 L1561.3,2074.3 L1561.5,2072.3 L1561.6,2070.4 L1561.8,2068.4 L1562.0,2066.4 L1562.2,2064.4 L1562.4,2062.4 L1562.6,2060.5 L1562.9,2058.5 L1563.3,2056.4 L1563.6,2054.4 L1564.0,2052.4 L1564.5,2050.4 L1565.0,2048.3 L1565.6,2046.2 L1566.3,2044.2 L1567.0,2042.1 L1567.8,2039.9 L1568.7,2037.9 L1569.6,2036.0 L1570.6,2034.3 L1571.6,2033.0 L1572.6,2032.1 L1573.6,2031.8 L1574.6,2032.0 L1575.5,2032.9 L1576.5,2034.2 L1577.4,2035.8 L1578.3,2037.7 L1579.2,2039.7 L1580.0,2041.8 L1580.8,2043.9 L1581.6,2046.0 L1582.3,2048.0 L1583.0,2050.1 L1583.7,2052.1 L1584.3,2054.1 L1584.9,2056.2 L1585.5,2058.2 L1586.1,2060.2 L1586.6,2062.2 L1587.1,2064.2 L1587.6,2066.2 L1588.1,2068.1 L1588.6,2070.1 L1589.0,2072.1 L1589.5,2074.0 L1589.9,2076.0 L1590.3,2078.0 L1590.7,2079.9 L1591.1,2081.9 L1591.4,2083.8 L1591.8,2085.8 L1592.2,2087.7 L1592.5,2089.7 L1592.9,2091.6 L1593.3,2093.6 L1593.6,2095.5 L1594.0,2097.5 L1594.3,2099.5 L1594.7,2101.4 L1595.0,2103.4 L1595.4,2105.3 L1595.7,2107.3 L1596.0,2109.2 L1596.4,2111.2 L1596.7,2113.2 L1597.1,2115.1 L1597.4,2117.1 L1597.7,2119.0 L1598.1,2121.0 L1598.4,2123.0 L1598.7,2124.9 L1599.0,2126.9 L1599.4,2128.9 L1599.7,2130.8 L1600.0,2132.8 L1600.3,2134.8 L1600.6,2136.7 L1601.0,2138.7 L1601.3,2140.7 L1601.6,2142.6 L1601.9,2144.6 L1602.2,2146.6 L1602.5,2148.5 L1602.8,2150.5 L1603.1,2152.5 L1603.4,2154.4 L1603.7,2156.4 L1604.1,2158.4 L1604.4,2160.4 L1604.7,2162.3 L1605.0,2164.3 L1605.2,2166.3 L1605.5,2168.3 L1605.8,2170.2 L1606.1,2172.2 L1606.4,2174.2 L1606.7,2176.2 L1607.0,2178.1 L1607.3,2180.1 L1607.6,2182.1 L1607.9,2184.1 L1608.2,2186.0 L1608.5,2188.0 L1608.7,2190.0 L1609.0,2192.0 L1609.3,2194.0 L1609.6,2195.9 L1609.9,2197.9 L1610.2,2199.9 L1610.4,2201.9 L1610.7,2203.9 L1611.0,2205.8 L1611.3,2207.8 L1611.6,2209.8 L1611.9,2211.8 L1612.1,2213.8 L1612.4,2215.8 L1612.7,2217.7 L1613.0,2219.7 L1613.2,2221.7 L1613.5,2223.7 L1613.8,2225.7 L1614.1,2227.7 L1614.3,2229.6 L1614.6,2231.6 L1614.9,2233.6 L1615.2,2235.6 L1615.4,2237.6 L1615.7,2239.6 L1616.0,2241.6 L1616.3,2243.5 L1616.5,2245.5 L1616.8,2247.5 L1617.1,2249.5 L1617.4,2251.5 L1617.6,2253.5 L1617.9,2255.5 L1618.2,2257.4 L1618.5,2259.4 L1618.7,2261.4 L1619.0,2263.4 L1619.3,2265.4 L1619.6,2267.4 L1619.8,2269.4 L1620.1,2271.3 L1620.4,2273.3 L1620.7,2275.3 L1620.9,2277.3 L1621.2,2279.3 L1621.5,2281.3 L1621.8,2283.3 L1622.1,2285.3 L1622.3,2287.2 L1622.6,2289.2 L1622.9,2291.2 L1623.2,2293.2 L1623.5,2295.2 L1623.7,2297.2 L1624.0,2299.2 L1624.3,2301.2 L1624.6,2303.1 L1624.9,2305.1 L1625.2,2307.1 L1625.4,2309.1 L1625.7,2311.1 L1626.0,2313.1 L1626.3,2315.1 L1626.6,2317.0 L1626.9,2319.0 L1627.2,2321.0 L1627.5,2323.0 L1627.8,2325.0 L1628.0,2327.0 L1628.3,2329.0 L1628.6,2330.9 L1628.9,2332.9 L1629.2,2334.9 L1629.5,2336.9 L1629.8,2338.9 L1630.1,2340.9 L1630.4,2342.9 L1630.7,2344.8 L1631.0,2346.8 L1631.4,2348.8 L1631.7,2350.8 L1632.0,2352.8 L1632.3,2354.8 L1632.6,2356.7 L1632.9,2358.7 L1633.2,2360.7 L1633.5,2362.7 L1633.9,2364.7 L1634.2,2366.6 L1634.5,2368.6 L1634.8,2370.6 L1635.1,2372.6 L1635.5,2374.6 L1635.8,2376.5 L1636.1,2378.5 L1636.5,2380.5 L1636.8,2382.5 L1637.1,2384.5 L1637.4,2386.4 L1637.8,2388.4 L1638.1,2390.4 L1638.4,2392.4 L1638.8,2394.3 L1639.1,2396.3 L1639.4,2398.3 L1639.7,2400.3 L1640.1,2402.2 L1640.4,2404.2 L1640.7,2406.2 L1641.0,2408.2 L1641.3,2410.1 L1641.6,2412.1 L1641.9,2414.1 L1642.2,2416.0 L1642.5,2418.0 L1642.8,2420.0 L1643.1,2421.9 L1643.4,2423.9 L1643.7,2425.8 L1643.9,2427.8 L1644.2,2429.8 L1644.5,2431.7 L1644.7,2433.7 L1645.0,2435.6 L1645.2,2437.6 L1645.5,2439.6 L1645.7,2441.5 L1645.9,2443.5 L1646.2,2445.4 L1646.4,2447.4 L1646.6,2449.3 L1646.8,2451.3 L1647.0,2453.2 L1647.2,2455.2 L1647.4,2457.1 L1647.6,2459.1 L1647.8,2461.0 L1648.0,2463.0 L1648.2,2465.0 L1648.4,2466.9 L1648.6,2468.9 L1648.8,2470.8 L1649.0,2472.8 L1649.2,2474.8 L1649.4,2476.7 L1649.6,2478.7 L1649.8,2480.7 L1650.0,2482.7 L1650.3,2484.7 L1650.5,2486.7 L1650.7,2488.7 L1651.0,2490.6 L1651.2,2492.7 L1651.5,2494.7 L1651.8,2496.7 L1652.0,2498.7 L1652.3,2500.7 L1652.6,2502.8 L1652.9,2504.8 L1653.3,2506.8 L1653.6,2508.9 L1653.9,2511.0 L1654.3,2513.0 L1654.7,2515.1 L1655.1,2517.2 L1655.5,2519.3 L1655.9,2521.3 L1656.4,2523.4 L1656.8,2525.5 L1657.3,2527.6 L1657.9,2529.6 L1658.4,2531.6 L1659.1,2533.6 L1659.7,2535.6 L1660.4,2537.5 L1661.1,2539.4 L1661.9,2541.3 L1662.7,2543.1 L1663.6,2544.9 L1664.5,2546.6 L1665.5,2548.2 L1666.6,2549.8 L1667.7,2551.3 L1668.9,2552.7 L1670.1,2554.1 L1671.4,2555.4 L1672.8,2556.5 L1674.3,2557.7 L1675.9,2558.7 L1677.5,2559.6 L1679.1,2560.5 L1680.9,2561.3 L1682.6,2562.0 L1684.5,2562.6 L1686.4,2563.2 L1688.3,2563.7 L1690.2,2564.1 L1692.2,2564.4 L1694.2,2564.8 L1696.3,2565.0 L1698.4,2565.2 L1700.5,2565.3 L1702.6,2565.4 L1704.7,2565.4 L1706.8,2565.3 L1708.9,2565.2 L1711.0,2565.1 L1713.1,2564.8 L1715.2,2564.5 L1717.2,2564.1 L1719.2,2563.7 L1721.2,2563.1 L1723.1,2562.5 L1724.9,2561.8 L1726.7,2561.0 L1728.4,2560.1 L1730.1,2559.1 L1731.6,2558.1 L1733.1,2556.9 L1734.5,2555.6 L1735.8,2554.2 L1737.0,2552.8 L1738.1,2551.2 L1739.2,2549.6 L1740.2,2547.9 L1741.1,2546.2 L1742.0,2544.4 L1742.9,2542.5 L1743.6,2540.7 L1744.4,2538.7 L1745.1,2536.8 L1745.7,2534.8 L1746.4,2532.8 L1747.0,2530.8 L1747.5,2528.8 L1748.1,2526.8 L1748.7,2524.8 L1749.2,2522.8 L1749.7,2520.9 L1750.2,2518.9 L1750.7,2516.9 L1751.2,2514.9 L1751.6,2512.9 L1752.1,2511.0 L1752.5,2509.0 L1752.9,2507.0 L1753.4,2505.1 L1753.8,2503.1 L1754.1,2501.2 L1754.5,2499.2 L1754.9,2497.3 L1755.3,2495.4 L1755.6,2493.4 L1756.0,2491.5 L1756.3,2489.6 L1756.7,2487.7 L1757.0,2485.8 L1757.4,2483.9 L1757.7,2482.0 L1758.0,2480.2 L1758.3,2478.3 L1758.7,2476.4 L1759.0,2474.6 L1759.4,2472.7 L1759.7,2470.8 L1760.2,2468.9 L1760.6,2466.9 L1761.2,2464.9 L1761.7,2462.8 L1762.4,2460.7 L1763.1,2458.6 L1763.9,2456.3 L1764.8,2454.0 L1765.8,2451.7 L1766.9,2449.5 L1768.1,2447.5 L1769.3,2445.8 L1770.7,2444.4 L1772.1,2443.4 L1773.6,2442.8 L1775.1,2442.7 L1776.7,2442.9 L1778.3,2443.5 L1779.9,2444.3 L1781.4,2445.3 L1783.0,2446.4 L1784.5,2447.7 L1785.9,2449.0 L1787.3,2450.3 L1788.5,2451.8 L1789.8,2453.2 L1791.0,2454.7 L1792.1,2456.3 L1793.1,2457.9 L1794.2,2459.5 L1795.1,2461.2 L1796.1,2462.9 L1796.9,2464.7 L1797.8,2466.4 L1798.6,2468.2 L1799.4,2470.1 L1800.1,2471.9 L1800.8,2473.8 L1801.5,2475.8 L1802.1,2477.7 L1802.8,2479.6 L1803.4,2481.6 L1804.0,2483.6 L1804.6,2485.6 L1805.2,2487.6 L1805.7,2489.6 L1806.3,2491.7 L1806.9,2493.7 L1807.4,2495.7 L1807.9,2497.8 L1808.5,2499.8 L1809.0,2501.9 L1809.5,2503.9 L1810.0,2506.0 L1810.6,2508.0 L1811.1,2510.0 L1811.6,2512.1 L1812.2,2514.1 L1812.7,2516.1 L1813.3,2518.1 L1813.8,2520.1 L1814.4,2522.1 L1815.0,2524.0 L1815.6,2526.0 L1816.2,2527.9 L1816.8,2529.8 L1817.5,2531.7 L1818.1,2533.6 L1818.8,2535.4 L1819.5,2537.2 L1820.2,2539.0 L1821.0,2540.8 L1821.8,2542.5 L1822.6,2544.2 L1823.4,2545.9 L1824.2,2547.5 L1825.1,2549.1 L1826.0,2550.7 L1827.0,2552.2 L1828.0,2553.7 L1829.0,2555.2 L1830.1,2556.6 L1831.1,2557.9 L1832.3,2559.1 L1833.5,2560.0 L1834.8,2560.3 L1836.2,2560.1 L1837.7,2559.4 L1839.2,2558.3 L1840.7,2557.0 L1842.2,2555.4 L1843.7,2553.7 L1845.1,2551.9 L1846.6,2550.0 L1848.1,2548.1 L1849.7,2546.3 L1851.2,2544.5 L1852.7,2542.9 L1854.3,2541.5 L1856.0,2540.3 L1857.6,2539.4 L1859.3,2538.9 L1861.1,2538.7 L1862.9,2539.0 L1864.7,2539.6 L1866.5,2540.4 L1868.3,2541.5 L1869.9,2542.8 L1871.5,2544.2 L1873.0,2545.6 L1874.4,2547.2 L1875.8,2548.8 L1877.2,2550.4 L1878.6,2552.1 L1880.1,2553.8 L1881.6,2555.4 L1883.2,2557.0 L1884.9,2558.5 L1886.6,2559.9 L1888.3,2561.1 L1890.0,2562.1 L1891.7,2562.9 L1893.4,2563.4 L1895.0,2563.5 L1896.6,2563.3 L1898.1,2562.8 L1899.6,2561.9 L1901.1,2560.8 L1902.5,2559.4 L1903.9,2557.8 L1905.3,2556.1 L1906.7,2554.3 L1908.1,2552.4 L1909.6,2550.6 L1911.0,2548.7 L1912.6,2547.0 L1914.1,2545.4 L1915.7,2544.0 L1917.3,2542.8 L1918.9,2541.9 L1920.5,2541.3 L1922.1,2541.1 L1923.7,2541.3 L1925.3,2541.8 L1926.8,2542.7 L1928.4,2543.8 L1929.9,2545.2 L1931.5,2546.7 L1933.0,2548.3 L1934.6,2550.1 L1936.1,2551.9 L1937.7,2553.7 L1939.2,2555.5 L1940.8,2557.2 L1942.4,2558.8 L1944.0,2560.3 L1945.6,2561.7 L1947.3,2563.0 L1949.0,2564.1 L1950.6,2565.0 L1952.4,2565.7 L1954.1,2566.2 L1955.9,2566.4 L1957.7,2566.4 L1959.6,2566.2 L1961.4,2565.9 L1963.3,2565.3 L1965.2,2564.7 L1967.1,2563.9 L1969.1,2563.1 L1971.0,2562.3 L1973.0,2561.4 L1975.0,2560.6 L1976.9,2559.8 L1978.9,2559.2 L1980.8,2558.6 L1982.8,2558.2 L1984.7,2558.0 L1986.6,2557.9 L1988.5,2558.0 L1990.4,2558.3 L1992.3,2558.8 L1994.2,2559.4 L1996.1,2560.0 L1997.9,2560.8 L1999.8,2561.7 L2001.6,2562.6 L2003.5,2563.6 L2005.4,2564.6 L2007.2,2565.6 L2009.1,2566.6 L2010.9,2567.6 L2012.8,2568.5 L2014.7,2569.5 L2016.6,2570.3 L2018.4,2571.1 L2020.3,2571.8 L2022.2,2572.3 L2024.2,2572.8 L2026.1,2573.1 L2028.0,2573.4 L2030.0,2573.5 L2031.9,2573.6 L2033.9,2573.5 L2035.9,2573.4 L2037.8,2573.2 L2039.8,2573.0 L2041.8,2572.6 L2043.8,2572.2 L2045.8,2571.8 L2047.8,2571.3 L2049.8,2570.7 L2051.8,2570.2 L2053.8,2569.5 L2055.8,2568.9 L2057.8,2568.2 L2059.8,2567.6 L2061.9,2566.9 L2063.9,2566.2 L2065.9,2565.5 L2067.9,2564.8 L2069.9,2564.1 L2071.8,2563.4 L2073.8,2562.7 L2075.8,2562.1 L2077.8,2561.4 L2079.8,2560.8 L2081.8,2560.2 L2083.8,2559.6 L2085.7,2559.0 L2087.7,2558.5 L2089.7,2558.0 L2091.6,2557.5 L2093.6,2557.0 L2095.5,2556.6 L2097.5,2556.3 L2099.4,2556.0 L2101.4,2555.7 L2103.3,2555.5 L2105.3,2555.3 L2107.2,2555.2 L2109.1,2555.1 L2111.1,2555.1 L2113.0,2555.1 L2114.9,2555.3 L2116.8,2555.4 L2118.7,2555.7 L2120.6,2556.0 L2122.5,2556.4 L2124.4,2556.9 L2126.3,2557.5 L2128.2,2558.1 L2130.0,2558.8 L2131.9,2559.6 L2133.8,2560.5 L2135.6,2561.5 L2137.5,2562.5 L2139.3,2563.5 L2141.2,2564.6 L2143.0,2565.7 L2144.9,2566.8 L2146.7,2567.8 L2148.6,2568.8 L2150.4,2569.7 L2152.2,2570.6 L2154.1,2571.4 L2155.9,2572.1 L2157.8,2572.7 L2159.6,2573.1 L2161.5,2573.4 L2163.3,2573.5 L2165.2,2573.5 L2167.1,2573.3 L2168.9,2573.0 L2170.8,2572.5 L2172.7,2572.0 L2174.6,2571.3 L2176.4,2570.6 L2178.3,2569.8 L2180.2,2568.9 L2182.1,2568.0 L2184.0,2567.0 L2185.9,2566.1 L2187.8,2565.1 L2189.7,2564.2 L2191.6,2563.3 L2193.5,2562.4 L2195.4,2561.6 L2197.3,2560.8 L2199.2,2560.1 L2201.1,2559.4 L2203.1,2558.7 L2205.0,2558.1 L2206.9,2557.6 L2208.8,2557.0 L2210.7,2556.6 L2212.7,2556.1 L2214.6,2555.7 L2216.5,2555.4 L2218.5,2555.1 L2220.4,2554.9 L2222.3,2554.7 L2224.3,2554.5 L2226.2,2554.4 L2228.2,2554.4 L2230.1,2554.4 L2232.1,2554.5 L2234.1,2554.6 L2236.0,2554.8 L2238.0,2555.0 L2240.0,2555.3 L2241.9,2555.6 L2243.9,2556.0 L2245.9,2556.5 L2247.9,2557.0 L2249.9,2557.5 L2251.9,2558.2 L2253.9,2558.8 L2255.9,2559.6 L2257.9,2560.4 L2259.9,2561.3 L2261.9,2562.2" fill="none" stroke="#FFC000" stroke-width="11" stroke-linecap="butt" stroke-linejoin="round"/>
<text transform="matrix(0.9812,0,0,1,178.76,117.95)" font-family="'Liberation Sans', Arial, sans-serif" font-weight="bold" font-style="normal" font-size="66.13" fill="#000000">(a)</text>
<text transform="matrix(0.9656,0,0,1,318.24,112.24)" font-family="'Liberation Sans', Arial, sans-serif" font-weight="normal" font-style="italic" font-size="63.34" fill="#000000">Cr 2p</text>
<text transform="matrix(0.8713,0,0,1,468.82,135.32)" font-family="'Liberation Sans', Arial, sans-serif" font-weight="normal" font-style="italic" font-size="54.24" fill="#000000">3/2</text>
<text transform="matrix(1.0348,0,0,1,681.18,460.19)" font-family="'Liberation Sans', Arial, sans-serif" font-weight="normal" font-style="italic" font-size="58.41" fill="#000000">Cr 2p</text>
<text transform="matrix(0.8428,0,0,1,831.55,480.50)" font-family="'Liberation Sans', Arial, sans-serif" font-weight="normal" font-style="italic" font-size="54.76" fill="#000000">1/2</text>
<text transform="matrix(0.9641,0,0,1,227.96,334.31)" font-family="'Liberation Sans', Arial, sans-serif" font-weight="bold" font-style="normal" font-size="50.77" fill="#00B050">Cr(III)</text>
<text transform="matrix(0.9771,0,0,1,589.14,539.73)" font-family="'Liberation Sans', Arial, sans-serif" font-weight="bold" font-style="normal" font-size="50.67" fill="#00B050">Cr(III)</text>
<text transform="matrix(0.9529,0,0,1,558.21,310.35)" font-family="'Liberation Sans', Arial, sans-serif" font-weight="bold" font-style="normal" font-size="50.13" fill="#FFC000">Cr(VI)</text>
<text transform="matrix(0.9352,0,0,1,928.22,547.89)" font-family="'Liberation Sans', Arial, sans-serif" font-weight="bold" font-style="normal" font-size="50.88" fill="#FFC000">Cr(VI)</text>
<text transform="translate(80.73,724.10) rotate(-90) scale(0.9223,1)" font-family="'Liberation Sans', Arial, sans-serif" font-weight="bold" font-style="italic" font-size="77.97" fill="#000000">Counts (Arb. Units)</text>
<text transform="matrix(0.9384,0,0,1,398.57,830.13)" font-family="'Liberation Sans', Arial, sans-serif" font-weight="bold" font-style="italic" font-size="77.97" fill="#000000">Binding energy (eV)</text>
<text transform="matrix(0.9795,0,0,1,2136.49,114.26)" font-family="'Liberation Sans', Arial, sans-serif" font-weight="bold" font-style="normal" font-size="65.60" fill="#000000">(b)</text>
<text transform="matrix(0.9735,0,0,1,1327.56,129.74)" font-family="'Liberation Sans', Arial, sans-serif" font-weight="normal" font-style="normal" font-size="50.06" fill="#000000">~35,000</text>
<text transform="matrix(0.9715,0,0,1,1549.95,157.70)" font-family="'Liberation Sans', Arial, sans-serif" font-weight="normal" font-style="normal" font-size="50.42" fill="#000000">~27,000</text>
<text transform="matrix(0.9805,0,0,1,1653.16,466.27)" font-family="'Liberation Sans', Arial, sans-serif" font-weight="normal" font-style="normal" font-size="49.82" fill="#000000">~23,500</text>
<text transform="matrix(0.9621,0,0,1,1925.84,323.21)" font-family="'Liberation Sans', Arial, sans-serif" font-weight="normal" font-style="normal" font-size="51.15" fill="#000000">~18,000</text>
<text transform="matrix(0.9743,0,0,1,1373.18,432.41)" font-family="'Liberation Sans', Arial, sans-serif" font-weight="bold" font-style="normal" font-size="49.81" fill="#FFC000">Cr(VI)</text>
<text transform="matrix(0.9796,0,0,1,1805.66,566.35)" font-family="'Liberation Sans', Arial, sans-serif" font-weight="bold" font-style="normal" font-size="50.13" fill="#00B050">Cr(III)</text>
<text transform="translate(1235.79,622.10) rotate(-90) scale(0.9633,1)" font-family="'Liberation Sans', Arial, sans-serif" font-weight="bold" font-style="italic" font-size="74.88" fill="#000000">Absorbance)</text>
<text transform="matrix(0.9270,0,0,1,1614.22,841.23)" font-family="'Liberation Sans', Arial, sans-serif" font-weight="bold" font-style="italic" font-size="80.32" fill="#000000">Wavelength (cm</text>
<text transform="matrix(0.9570,0,0,1,2184.88,817.00)" font-family="'Liberation Sans', Arial, sans-serif" font-weight="bold" font-style="italic" font-size="51.05" fill="#000000">-1</text>
<text transform="matrix(0.8710,0,0,1,2233.89,840.27)" font-family="'Liberation Sans', Arial, sans-serif" font-weight="bold" font-style="italic" font-size="77.33" fill="#000000">)</text>
<text transform="matrix(1.0648,0,0,1,169.79,1241.20)" font-family="'Liberation Serif', 'Times New Roman', serif" font-weight="bold" font-style="normal" font-size="97.89" fill="#00B050">ϱ</text>
<text transform="matrix(1.0290,0,0,1,219.03,1240.81)" font-family="'Liberation Serif', 'Times New Roman', serif" font-weight="bold" font-style="normal" font-size="95.01" fill="#00B050">-signal</text>
<text transform="matrix(1.0395,0,0,1,354.02,1089.86)" font-family="'Liberation Serif', 'Times New Roman', serif" font-weight="bold" font-style="normal" font-size="91.59" fill="#FFC000">ß</text>
<text transform="matrix(1.0384,0,0,1,405.32,1089.63)" font-family="'Liberation Serif', 'Times New Roman', serif" font-weight="bold" font-style="normal" font-size="94.47" fill="#FFC000">-signal</text>
<text transform="matrix(1.0613,0,0,1,676.25,1209.70)" font-family="'Liberation Serif', 'Times New Roman', serif" font-weight="bold" font-style="normal" font-size="94.58" fill="#FF0000">ƴ</text>
<text transform="matrix(1.0463,0,0,1,723.01,1209.82)" font-family="'Liberation Serif', 'Times New Roman', serif" font-weight="bold" font-style="normal" font-size="94.03" fill="#FF0000">-signal</text>
<text transform="matrix(0.9038,0,0,1,159.14,1639.36)" font-family="'Liberation Sans', Arial, sans-serif" font-weight="bold" font-style="normal" font-size="65.60" fill="#000000">(c)</text>
<text transform="translate(79.02,1571.82) rotate(-90) scale(0.9828,1)" font-family="'Liberation Sans', Arial, sans-serif" font-weight="bold" font-style="italic" font-size="74.24" fill="#000000">Int. (Arb. Units)</text>
<text transform="matrix(0.9136,0,0,1,451.53,1835.32)" font-family="'Liberation Sans', Arial, sans-serif" font-weight="bold" font-style="italic" font-size="77.55" fill="#000000">H (Gauss)</text>
<text transform="matrix(1.0205,0,0,1,166.27,1736.82)" font-family="'Liberation Sans', Arial, sans-serif" font-weight="normal" font-style="normal" font-size="38.32" fill="#000000">1000</text>
<text transform="matrix(1.0085,0,0,1,346.77,1736.82)" font-family="'Liberation Sans', Arial, sans-serif" font-weight="normal" font-style="normal" font-size="38.32" fill="#000000">2000</text>
<text transform="matrix(1.0027,0,0,1,525.86,1736.82)" font-family="'Liberation Sans', Arial, sans-serif" font-weight="normal" font-style="normal" font-size="38.32" fill="#000000">3000</text>
<text transform="matrix(0.9969,0,0,1,706.75,1736.82)" font-family="'Liberation Sans', Arial, sans-serif" font-weight="normal" font-style="normal" font-size="38.32" fill="#000000">4000</text>
<text transform="matrix(1.0027,0,0,1,884.26,1736.82)" font-family="'Liberation Sans', Arial, sans-serif" font-weight="normal" font-style="normal" font-size="38.32" fill="#000000">5000</text>
<text transform="matrix(1.0085,0,0,1,1061.57,1736.82)" font-family="'Liberation Sans', Arial, sans-serif" font-weight="normal" font-style="normal" font-size="38.32" fill="#000000">6000</text>
<text transform="matrix(1.0523,0,0,1,1844.64,1313.27)" font-family="'Liberation Serif', 'Times New Roman', serif" font-weight="bold" font-style="normal" font-size="95.67" fill="#FF0000">ƴ</text>
<text transform="matrix(1.0223,0,0,1,1892.83,1313.27)" font-family="'Liberation Serif', 'Times New Roman', serif" font-weight="bold" font-style="normal" font-size="95.67" fill="#FF0000">-signal</text>
<text transform="matrix(0.9912,0,0,1,1361.23,1630.47)" font-family="'Liberation Sans', Arial, sans-serif" font-weight="bold" font-style="normal" font-size="66.03" fill="#000000">(d)</text>
<text transform="translate(1245.04,1610.46) rotate(-90) scale(0.9921,1)" font-family="'Liberation Sans', Arial, sans-serif" font-weight="bold" font-style="italic" font-size="75.09" fill="#000000">Int. (Arb. Units)</text>
<text transform="matrix(0.9151,0,0,1,1623.53,1835.39)" font-family="'Liberation Sans', Arial, sans-serif" font-weight="bold" font-style="italic" font-size="77.23" fill="#000000">H (Gauss)</text>
<text transform="matrix(1.0484,0,0,1,1247.25,1736.84)" font-family="'Liberation Sans', Arial, sans-serif" font-weight="normal" font-style="normal" font-size="36.91" fill="#000000">3100</text>
<text transform="matrix(1.0484,0,0,1,1411.55,1736.84)" font-family="'Liberation Sans', Arial, sans-serif" font-weight="normal" font-style="normal" font-size="36.91" fill="#000000">3200</text>
<text transform="matrix(1.0484,0,0,1,1575.85,1736.84)" font-family="'Liberation Sans', Arial, sans-serif" font-weight="normal" font-style="normal" font-size="36.91" fill="#000000">3300</text>
<text transform="matrix(1.0484,0,0,1,1740.15,1736.84)" font-family="'Liberation Sans', Arial, sans-serif" font-weight="normal" font-style="normal" font-size="36.91" fill="#000000">3400</text>
<text transform="matrix(1.0484,0,0,1,1904.45,1736.84)" font-family="'Liberation Sans', Arial, sans-serif" font-weight="normal" font-style="normal" font-size="36.91" fill="#000000">3500</text>
<text transform="matrix(1.0484,0,0,1,2068.75,1736.84)" font-family="'Liberation Sans', Arial, sans-serif" font-weight="normal" font-style="normal" font-size="36.91" fill="#000000">3600</text>
<text transform="matrix(1.0484,0,0,1,2233.05,1736.84)" font-family="'Liberation Sans', Arial, sans-serif" font-weight="normal" font-style="normal" font-size="36.91" fill="#000000">3700</text>
<text transform="matrix(1.0166,0,0,1,184.47,2018.48)" font-family="'Liberation Sans', Arial, sans-serif" font-weight="bold" font-style="normal" font-size="65.49" fill="#000000">(e)</text>
<text transform="matrix(0.9607,0,0,1,466.56,2110.12)" font-family="'Liberation Sans', Arial, sans-serif" font-weight="bold" font-style="normal" font-size="51.20" fill="#00B050">Cr(III)</text>
<text transform="matrix(0.9249,0,0,1,191.19,2318.89)" font-family="'Liberation Sans', Arial, sans-serif" font-weight="bold" font-style="normal" font-size="52.27" fill="#FFC000">Cr(VI)</text>
<text transform="translate(76.42,2491.10) rotate(-90) scale(0.9129,1)" font-family="'Liberation Sans', Arial, sans-serif" font-weight="bold" font-style="italic" font-size="78.51" fill="#000000">Absorbance</text>
<text transform="matrix(0.9391,0,0,1,684.08,2739.10)" font-family="'Liberation Sans', Arial, sans-serif" font-weight="bold" font-style="italic" font-size="77.65" fill="#000000">Energy (eV)</text>
<text transform="matrix(1.0938,0,0,1,1352.50,2010.40)" font-family="'Liberation Sans', Arial, sans-serif" font-weight="bold" font-style="normal" font-size="64.00" fill="#000000">(f)</text>
<text transform="matrix(0.9622,0,0,1,1610.64,2056.12)" font-family="'Liberation Sans', Arial, sans-serif" font-weight="bold" font-style="normal" font-size="51.68" fill="#FFC000">Cr-O (~ 2.3 Å )</text>
<text transform="matrix(0.9508,0,0,1,1723.15,2404.46)" font-family="'Liberation Sans', Arial, sans-serif" font-weight="bold" font-style="normal" font-size="51.95" fill="#FFC000">Cr-Cr (~ 3.0 Å )</text>
<text transform="matrix(0.9594,0,0,1,1858.91,2508.52)" font-family="'Liberation Sans', Arial, sans-serif" font-weight="bold" font-style="normal" font-size="52.60" fill="#FFC000">Cr-Zr (~ 3.5 Å )</text>
<text transform="translate(1241.52,2576.64) rotate(-90) scale(0.9226,1)" font-family="'Liberation Sans', Arial, sans-serif" font-weight="bold" font-style="italic" font-size="79.89" fill="#000000">Mag |χ (R) | (</text>
<text transform="translate(1243.20,2133.28) rotate(-90) scale(0.8823,1)" font-family="'Liberation Sans', Arial, sans-serif" font-weight="bold" font-style="italic" font-size="82.97" fill="#000000">Å</text>
<text transform="translate(1217.80,2080.76) rotate(-90) scale(0.9787,1)" font-family="'Liberation Sans', Arial, sans-serif" font-weight="bold" font-style="italic" font-size="51.57" fill="#000000">-2</text>
<text transform="translate(1240.89,2032.01) rotate(-90) scale(0.8615,1)" font-family="'Liberation Sans', Arial, sans-serif" font-weight="bold" font-style="italic" font-size="78.19" fill="#000000">)</text>
<text transform="matrix(0.9233,0,0,1,1586.79,2744.71)" font-family="'Liberation Sans', Arial, sans-serif" font-weight="bold" font-style="italic" font-size="78.53" fill="#000000">Radial distance (Å)</text>
</svg>
</body></html>
